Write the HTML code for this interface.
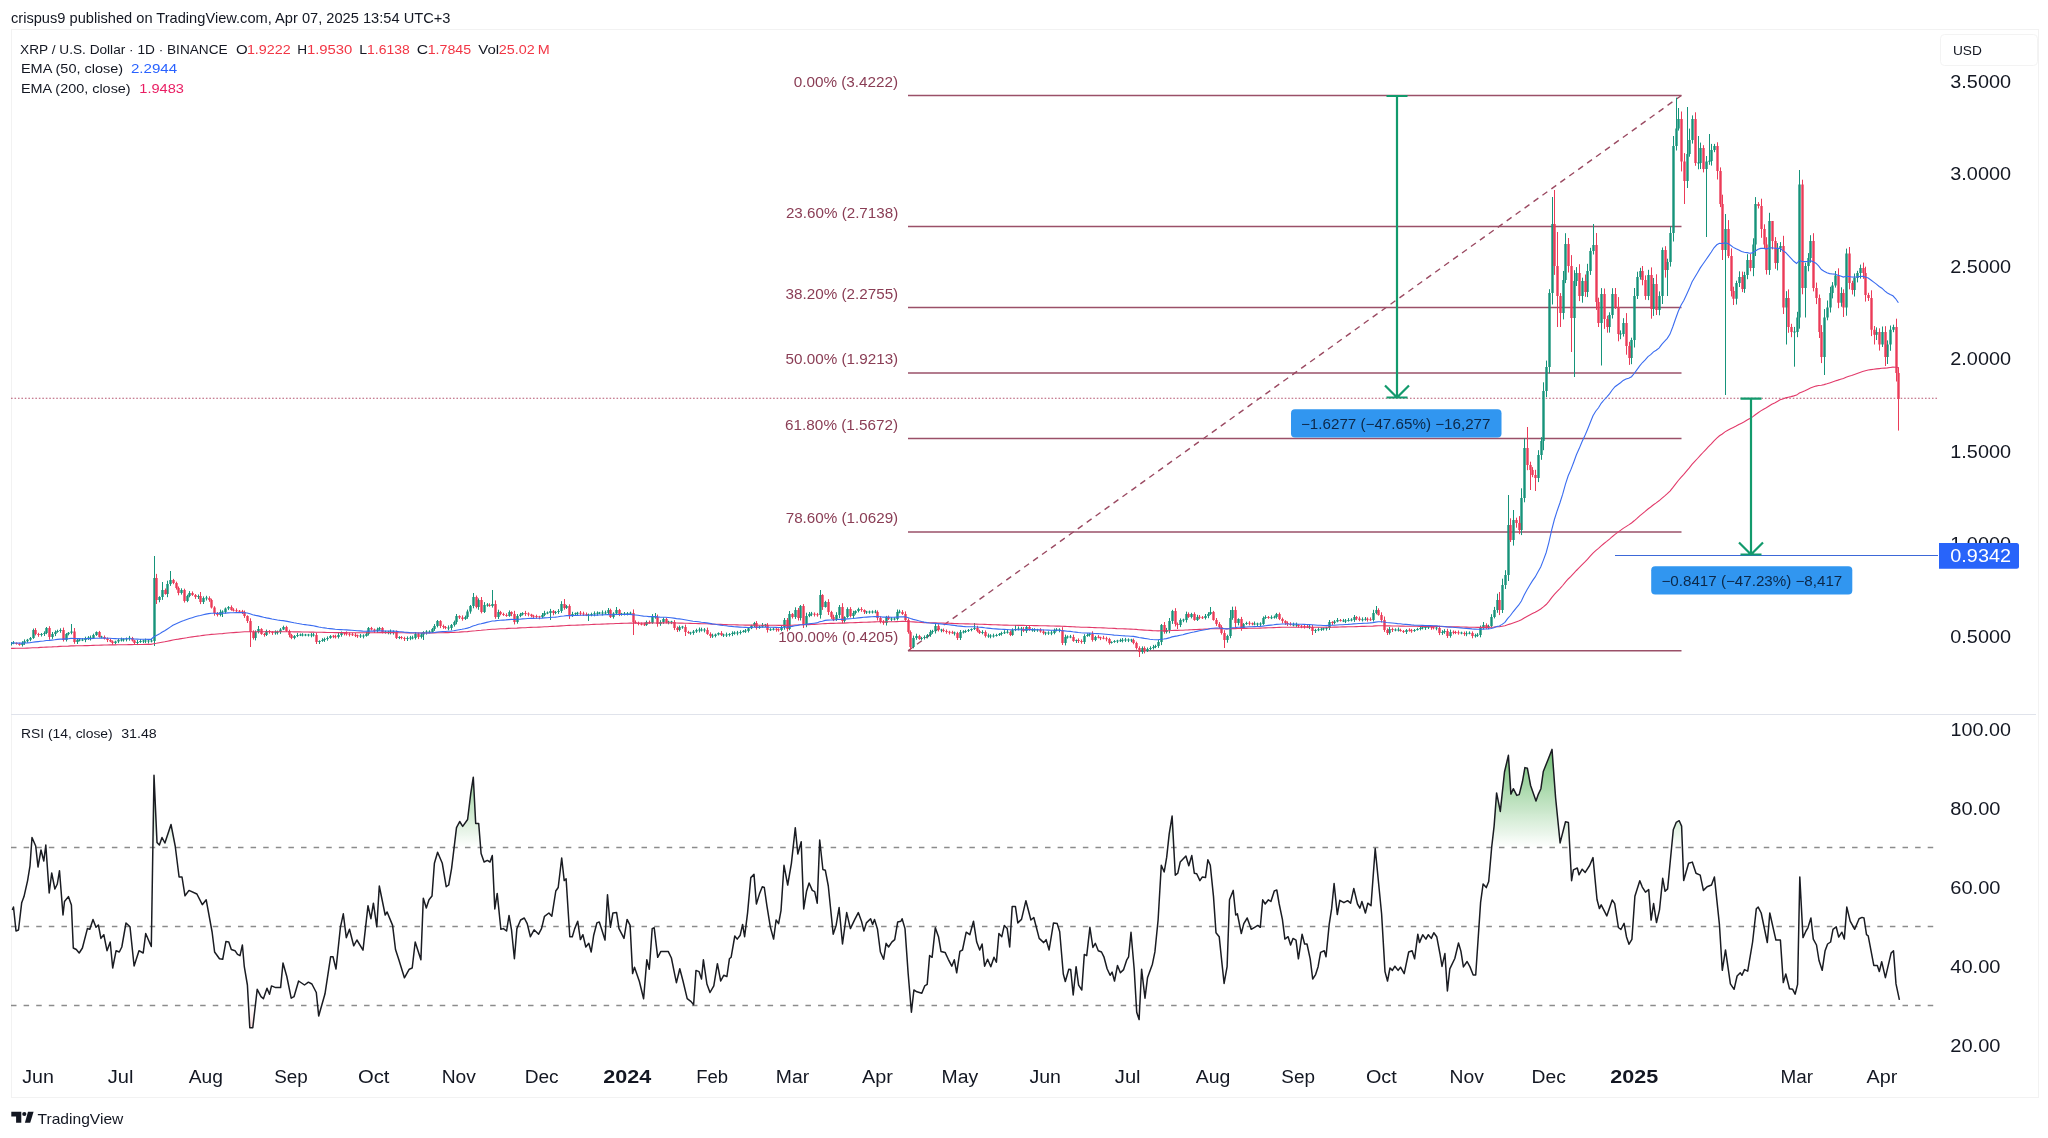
<!DOCTYPE html>
<html><head><meta charset="utf-8"><style>
html,body{margin:0;padding:0;background:#ffffff;}
body{width:2048px;height:1138px;position:relative;overflow:hidden;font-family:"Liberation Sans", sans-serif;color:#131722;}
</style></head><body>
<svg width="2048" height="1138" viewBox="0 0 2048 1138" style="position:absolute;left:0;top:0;will-change:transform"><defs>
<clipPath id="cp"><rect x="11" y="31" width="1927" height="682"/></clipPath>
<clipPath id="cr"><rect x="11" y="715" width="1927" height="340"/></clipPath>
<clipPath id="cob"><rect x="11" y="715" width="1927" height="132.5"/></clipPath>
<clipPath id="cos"><rect x="11" y="1005.5" width="1927" height="60"/></clipPath>
<linearGradient id="gob" gradientUnits="userSpaceOnUse" x1="0" y1="729" x2="0" y2="847.5"><stop offset="0" stop-color="#4caf50" stop-opacity="0.95"/><stop offset="1" stop-color="#4caf50" stop-opacity="0"/></linearGradient>
<linearGradient id="gos" gradientUnits="userSpaceOnUse" x1="0" y1="1005.5" x2="0" y2="1124"><stop offset="0" stop-color="#ff5252" stop-opacity="0"/><stop offset="1" stop-color="#ff5252" stop-opacity="0.95"/></linearGradient>
</defs><rect x="11.5" y="29.5" width="2027" height="1068" fill="none" stroke="#f2f2f2" stroke-width="1"/><line x1="11" y1="714.5" x2="2036" y2="714.5" stroke="#e0e3eb" stroke-width="1.2"/><g clip-path="url(#cp)"><line x1="11" y1="398.3" x2="1938" y2="398.3" stroke="#b55670" stroke-width="1.1" stroke-dasharray="1.6 1.88"/><line x1="908" y1="95.4" x2="1681.5" y2="95.4" stroke="#9a5068" stroke-width="1.5"/><line x1="908" y1="226.5" x2="1681.5" y2="226.5" stroke="#9a5068" stroke-width="1.5"/><line x1="908" y1="307.5" x2="1681.5" y2="307.5" stroke="#9a5068" stroke-width="1.5"/><line x1="908" y1="373" x2="1681.5" y2="373" stroke="#9a5068" stroke-width="1.5"/><line x1="908" y1="438.6" x2="1681.5" y2="438.6" stroke="#9a5068" stroke-width="1.5"/><line x1="908" y1="531.9" x2="1681.5" y2="531.9" stroke="#9a5068" stroke-width="1.5"/><line x1="908" y1="650.7" x2="1681.5" y2="650.7" stroke="#9a5068" stroke-width="1.5"/><line x1="908" y1="650.7" x2="1681.5" y2="95.4" stroke="#9b4a62" stroke-width="1.4" stroke-dasharray="6 5"/><path d="M11.5 642V645.5M13.5 641.1V644.2M22.5 641.2V646.5M24.5 639.4V644.9M27.5 638.9V642.6M30.5 637V641.2M33.5 628.6V638.9M41.5 633V636.5M44.5 631.3V636M46.5 627V634.2M52.5 632V638.9M55.5 630.4V636.1M57.5 629.7V632.7M60.5 628.3V632.8M66.5 633.1V641.5M68.5 632V635.3M71.5 624V634.3M77.5 638.6V644M79.5 638.7V641.4M82.5 638.1V641.1M85.5 636.7V642.2M88.5 636.1V640M90.5 635.5V640.5M93.5 633.7V639M96.5 631.4V635.9M101.5 635.8V638.2M115.5 640.7V644.3M118.5 638.7V643.1M121.5 637.6V641.5M123.5 638.3V641.6M126.5 637.5V641.4M129.5 635.9V640.7M137.5 640V645.1M140.5 639V642.9M143.5 639.7V643.1M145.5 638.6V643.1M148.5 639.7V643.5M151.5 638.8V642.4M154.5 556V646M159.5 596.2V602.3M162.5 582V599.9M167.5 580.7V597.2M170.5 571V585.9M181.5 588.3V594.6M187.5 594.7V602.2M189.5 591.1V597.3M198.5 594.5V599M203.5 596.4V604M206.5 595.8V600.5M220.5 609.6V616.4M222.5 610.3V617M225.5 607.5V613.5M228.5 606.1V610.1M255.5 630.4V640.4M258.5 626V633.4M266.5 629.6V636M275.5 630.4V634.7M277.5 630.6V634.5M280.5 628.1V633.9M283.5 625.7V630.1M294.5 635.1V639.3M297.5 632.9V637.1M300.5 633.5V636.1M302.5 633.2V636.4M305.5 633.9V636.2M308.5 633.9V636.5M311.5 633V637.3M313.5 632.8V636.6M319.5 640.3V644M322.5 638.2V641.8M324.5 637.6V641.9M327.5 636.4V640.7M330.5 635.1V638.8M338.5 633V638.5M341.5 631.5V636.7M360.5 633.9V637.9M363.5 634.3V638.4M366.5 631.7V636.7M368.5 627V635.5M377.5 627.6V633M379.5 626.9V630.7M385.5 630.7V633.6M388.5 630.8V634.3M390.5 629.5V634.4M393.5 630.4V634.6M399.5 636.2V639.1M407.5 636.4V641M410.5 635.9V640.2M412.5 635.7V639.4M415.5 632V639.5M421.5 632.9V638.5M423.5 631.2V640M426.5 630.2V634.6M429.5 630.3V633.3M432.5 627.9V633M434.5 624.1V630.9M437.5 620V627.4M448.5 625.4V630.3M451.5 624V630.1M454.5 620.6V626.6M456.5 614V624.3M465.5 615.6V619.9M467.5 609.6V618.8M470.5 605V613.7M473.5 593V608.3M478.5 598.4V609.8M484.5 602.1V613M487.5 603.1V606.7M492.5 590V607.6M498.5 609.7V619M509.5 610.4V616.8M517.5 614.1V623.7M520.5 612.9V617.2M522.5 612.2V615.5M542.5 613V618.1M544.5 610.8V616.2M547.5 611.5V614.2M550.5 608.9V620M555.5 610.9V614.2M558.5 609.1V613.9M561.5 601.2V612.9M566.5 604.9V608.9M572.5 611.8V616.9M575.5 612.5V615.9M577.5 611.8V615.3M588.5 613.6V621M591.5 612.7V616.3M594.5 611.4V616.3M597.5 611.4V615.7M599.5 611.9V614.2M602.5 610.4V615.5M605.5 610.6V614.5M608.5 608V614.8M613.5 612.2V618.6M616.5 607V615.1M621.5 612.9V615.7M624.5 612V615.4M627.5 612.1V615.4M630.5 611.7V614.9M646.5 620.6V625.9M652.5 614.1V623.9M655.5 613V618.7M660.5 620.2V625.8M663.5 617.4V623.9M668.5 620.8V624.3M671.5 620.8V624.1M679.5 625.5V631.4M682.5 625.8V628.8M690.5 631.8V634.8M693.5 630V634.8M696.5 628.7V632.9M699.5 627.5V632.5M701.5 627.7V631.5M704.5 628.1V632.4M712.5 633.7V637.9M715.5 633.6V637.4M718.5 632.4V635.5M723.5 633.7V637M726.5 632.6V637M729.5 633.1V636.5M732.5 631.3V636.1M734.5 631.3V634.7M737.5 630.9V635.3M740.5 630.3V634.5M743.5 630V632.6M745.5 629V632.9M748.5 627.4V632.5M751.5 624.8V629.1M754.5 621.9V627M759.5 625.6V628.8M762.5 623V627.7M765.5 623.9V626.9M770.5 628.2V630.9M773.5 627.6V630.5M781.5 625.2V631.1M784.5 618V629.7M789.5 611V630.2M795.5 607.3V618.9M800.5 605V620.5M806.5 612.7V627.2M809.5 612V617.2M811.5 611.9V616.2M820.5 590V618.6M825.5 600.8V607.6M836.5 612.2V620.9M839.5 605V618.1M844.5 616.3V622.8M847.5 607.3V617.9M853.5 610.8V618.1M855.5 610.3V614.5M858.5 607.7V612.4M866.5 610.9V613.9M869.5 610.6V613.7M872.5 610.4V613.5M875.5 609.9V613.3M886.5 615.9V625.5M891.5 617.1V621.3M894.5 617.4V620.4M897.5 609.5V620.4M899.5 609.7V613.3M913.5 635.6V648.3M916.5 633.7V639.8M921.5 636.9V640.3M924.5 635.4V639.5M927.5 634V638.4M930.5 629.9V636.8M932.5 629.8V633.8M935.5 623.6V633.5M941.5 628.8V632.3M954.5 631.6V635.5M960.5 630V640M963.5 630.2V633.5M965.5 629.8V632.9M968.5 629V632M971.5 628.4V631.3M974.5 623V630M982.5 630.2V634.3M988.5 633.6V637.8M990.5 634.2V638.3M993.5 633.7V637.6M996.5 633.8V636.6M999.5 633V636M1001.5 631.7V635.6M1004.5 630.2V634M1007.5 629.7V633.6M1012.5 628.3V635.8M1015.5 625V631.1M1018.5 626.5V630.4M1021.5 626.9V636M1026.5 625.1V632.9M1032.5 628.2V631.7M1034.5 628.2V632M1037.5 628.8V631.8M1045.5 631.8V635.2M1048.5 631.3V634.9M1051.5 630.6V635.2M1054.5 628.5V634.3M1056.5 628.1V631.4M1059.5 628.3V632.3M1065.5 634.6V645.4M1067.5 635.4V638.6M1070.5 634.9V638.2M1076.5 639.5V643M1084.5 634.2V644M1087.5 633.3V636.8M1089.5 633V636.6M1095.5 635.8V641.2M1111.5 641.3V643.6M1114.5 640.1V642.8M1117.5 639.8V643.1M1120.5 638.6V642M1122.5 638V642.4M1125.5 637.9V641.9M1128.5 638.4V642.1M1131.5 638.8V642.2M1142.5 646.4V653.8M1147.5 647.5V652M1150.5 646.3V650.1M1153.5 644.9V649.5M1155.5 644.7V648.2M1158.5 639.9V647.9M1161.5 624V645.1M1166.5 627.9V633.5M1169.5 618V633.2M1172.5 609.8V623.9M1180.5 618.4V627.1M1183.5 618.7V622.2M1186.5 611.6V622.5M1191.5 612.8V618.4M1197.5 614.8V621M1205.5 614V619.5M1208.5 612.2V618.2M1210.5 607V614.9M1227.5 634.7V642.7M1230.5 610V638.2M1232.5 606.7V619.8M1238.5 618.3V625.4M1243.5 623.1V629M1246.5 621.7V624.9M1254.5 621.5V625.3M1257.5 622.7V626.4M1260.5 622.3V626.3M1263.5 616.4V624.9M1265.5 615.3V618.9M1271.5 615.4V619.1M1274.5 615.6V618.6M1276.5 612.9V618.6M1293.5 622.6V626.4M1296.5 622.6V626.9M1309.5 624.8V629.1M1315.5 628.8V633M1318.5 627.4V631.2M1321.5 627.7V630.9M1323.5 627.6V630.5M1326.5 626.9V630.6M1329.5 620V630M1334.5 620.1V624.3M1337.5 618V622.3M1343.5 618.9V622.1M1345.5 619V623.1M1348.5 618.1V621.6M1351.5 618.2V621.4M1354.5 615V621.9M1362.5 617.4V621.5M1365.5 617V620.7M1373.5 609.8V621.5M1376.5 606V614.3M1389.5 626.9V634.6M1395.5 628.4V631.3M1398.5 627.5V631.5M1406.5 629.1V634M1414.5 629V631.9M1417.5 627.8V630.6M1420.5 626.2V630.4M1422.5 626.2V629.4M1425.5 626.2V629.9M1428.5 626V629M1436.5 625.9V630.3M1442.5 630.2V634.9M1444.5 629.2V633.8M1450.5 629.6V637.7M1461.5 631.7V634.3M1466.5 631.3V636.2M1469.5 631.4V634.3M1475.5 633.7V637.6M1477.5 633.1V636.9M1480.5 625.6V637.3M1483.5 622V629.4M1488.5 624.7V629.1M1491.5 614.2V627.3M1494.5 606.9V618.4M1497.5 593.7V612.8M1502.5 578.7V613M1505.5 570.2V589M1508.5 495V581M1513.5 510V545.6M1521.5 488.3V535.1M1524.5 438.3V502.3M1538.5 450.2V482.1M1541.5 437.2V459.8M1543.5 382.3V450.2M1546.5 360.6V397.1M1549.5 289.2V373.3M1552.5 197V304.5M1563.5 271V319.4M1565.5 233.2V283.1M1574.5 270.2V377M1576.5 267.1V286M1582.5 277.7V302.7M1587.5 263.8V297.1M1590.5 247.8V274.9M1593.5 224V254.5M1601.5 288.1V365.5M1609.5 312.3V332.6M1612.5 288.2V318.5M1620.5 330.4V339.2M1623.5 318.2V336.6M1631.5 337.7V364.2M1634.5 288V347.5M1637.5 271.7V299M1640.5 267.8V279.6M1648.5 269.8V300.1M1653.5 278V315.9M1659.5 291.4V315.3M1662.5 247.5V304M1667.5 258.7V296M1670.5 226.2V266.6M1673.5 136V241.5M1676.5 97.7V150.5M1678.5 108V130.6M1687.5 107V188M1689.5 128.6V156.7M1692.5 115.4V143.6M1698.5 136V169.3M1700.5 142.6V169M1706.5 156V237M1709.5 134V164.8M1711.5 143.9V165.6M1714.5 143.9V152.2M1725.5 214V395M1736.5 280.7V304.5M1739.5 271.3V287M1744.5 271.8V292.9M1747.5 254.2V279.2M1753.5 238.3V276.2M1755.5 197.1V256M1769.5 212.8V274.9M1777.5 243.1V270.4M1780.5 242.1V252M1786.5 291.2V344.5M1794.5 326.9V366.7M1797.5 311.8V337.2M1799.5 170V328.7M1805.5 262.7V317.5M1808.5 253.1V271.3M1810.5 235.2V262.7M1824.5 309.1V375M1827.5 300.5V320.3M1830.5 286.8V312.5M1832.5 282.1V298.4M1835.5 271V287.6M1841.5 287.3V306.7M1846.5 248.6V315.7M1854.5 273.5V296.5M1857.5 270.8V282.4M1860.5 264.6V278.6M1876.5 327.4V340M1882.5 326.5V347M1887.5 340.4V364M1890.5 325.5V350.8M1893.5 324.7V332.2" stroke="#16937a" stroke-width="1" fill="none"/><path d="M16.5 642.4V644.6M19.5 642.7V645.7M35.5 628.1V635.4M38.5 632.8V636.8M49.5 626.2V639.7M63.5 627.6V641.5M74.5 628V643.8M99.5 630.9V637.7M104.5 635.5V639.5M107.5 637.4V642.1M110.5 638.7V642.2M112.5 640.4V644.8M132.5 636.9V641.5M134.5 639.8V644.2M156.5 573.9V604M165.5 588.5V594.7M173.5 578.9V584.2M176.5 581.7V589.6M178.5 586.5V595.3M184.5 588.7V602.6M192.5 591.4V595.9M195.5 594V598.9M200.5 592V604.1M209.5 596.3V601.8M211.5 598.7V608.5M214.5 606.2V615.7M217.5 612V616.5M231.5 605.4V610.7M233.5 608.2V611.5M236.5 608.4V612M239.5 610V612.7M242.5 609.9V614M244.5 610.5V617.9M247.5 615.3V623M250.5 618.3V647M253.5 630.3V639.6M261.5 628.2V634.8M264.5 633V636.7M269.5 630.1V633.7M272.5 631.1V634.9M286.5 625.8V632M289.5 629.7V637.3M291.5 633.9V639.2M316.5 632.8V644M333.5 634.9V638.2M335.5 634.7V638.5M344.5 632.1V635.4M346.5 631.4V635.6M349.5 632.4V636.5M352.5 632.8V636M355.5 633.1V637.1M357.5 634.6V637.9M371.5 626.9V630.5M374.5 628.6V633M382.5 627.1V633.4M396.5 630.4V639M401.5 636.1V639.3M404.5 636.7V641M418.5 632.6V639.1M440.5 620.1V628.1M443.5 624.6V628.8M445.5 626V629.2M459.5 615.3V619M462.5 615.4V620.7M476.5 595.5V608.4M481.5 597V613.4M489.5 603.3V606.8M495.5 600.4V618.8M500.5 610.9V615.3M503.5 612.7V615.9M506.5 613.3V616.8M511.5 611.3V616.2M514.5 610.8V624.4M525.5 610.9V615.9M528.5 612.4V616.4M531.5 613.8V617.3M533.5 614.8V618.5M536.5 614.7V618.7M539.5 615.8V619.3M553.5 610V615.3M564.5 599V609.7M569.5 604.3V618.9M580.5 611V615.4M583.5 611.7V615.9M586.5 612.5V616.1M610.5 608.7V618M619.5 608.9V616.1M633.5 609.4V635M635.5 620.4V623.7M638.5 621.7V625.3M641.5 622.5V625.4M644.5 622.6V626M649.5 620.5V623.8M657.5 614.6V626.7M666.5 617.9V623.5M674.5 620.1V630.1M677.5 626.4V632M685.5 624.6V636M688.5 630.8V633.8M707.5 627.6V634.9M710.5 632.3V638M721.5 631.1V636.1M756.5 621.1V629.6M767.5 623.1V632.6M776.5 628.1V631.7M778.5 628.3V631.6M787.5 618V631.5M792.5 613.1V618.5M798.5 608V620.5M803.5 604.1V628M814.5 612.4V616.5M817.5 612.9V616.7M822.5 594.2V609.9M828.5 599.2V615M831.5 610.8V618.9M833.5 614.7V621.1M842.5 603.2V623.3M850.5 607.1V617.5M861.5 607.2V611.8M864.5 609.4V614M877.5 610.4V620.5M880.5 616.3V623.4M883.5 620.1V624.8M888.5 615.6V620M902.5 610.1V614.9M905.5 611.4V620.9M908.5 618.3V633.7M910.5 630.4V650M919.5 634.8V639.8M938.5 624.2V631.5M943.5 628.5V632.2M946.5 629.5V633.7M949.5 630.8V634.5M952.5 630.8V633.9M957.5 631.8V640M977.5 625.8V632.3M979.5 629.8V634M985.5 630.4V637.5M1010.5 630.5V636.1M1023.5 627V632.1M1029.5 625.5V630.9M1040.5 628.2V632.7M1043.5 629.5V634.6M1062.5 627.2V645M1073.5 634.7V641.8M1078.5 638.4V643M1081.5 639.4V643.7M1092.5 631.3V641.7M1098.5 635.1V638.4M1100.5 636.7V640.1M1103.5 635.8V639.3M1106.5 636.7V641.3M1109.5 637.8V644.6M1133.5 638.6V644.3M1136.5 641.7V649.6M1139.5 646.3V657M1144.5 646.4V653.4M1164.5 622V633.7M1175.5 608.2V626.5M1177.5 622.5V629M1188.5 612.4V617.9M1194.5 612.3V620.8M1199.5 615V619.2M1202.5 616V619M1213.5 610.9V620.7M1216.5 618V625.9M1219.5 622.1V628.6M1221.5 625.2V634.6M1224.5 630.2V648M1235.5 606.5V627M1241.5 616.9V630.8M1249.5 621.2V625.4M1252.5 622.5V625.3M1268.5 616V618.8M1279.5 612.5V620.1M1282.5 617.6V623.4M1285.5 620.2V624.9M1287.5 621.4V626M1290.5 622.2V625.7M1298.5 624.1V627.6M1301.5 625V628.2M1304.5 625V628.6M1307.5 624.5V628.1M1312.5 625V635M1332.5 621.2V625M1340.5 619V621.6M1356.5 616.1V620.2M1359.5 616.5V621.2M1367.5 617.4V621.6M1370.5 617.4V620.9M1378.5 608.3V615.7M1381.5 612.3V622.5M1384.5 616.5V631.9M1387.5 628.4V635M1392.5 627.6V632M1400.5 628.7V631.7M1403.5 630V633M1409.5 628.3V631.7M1411.5 628.9V632.8M1431.5 626V629.8M1433.5 626.5V629.4M1439.5 625.6V635.1M1447.5 628.8V638M1453.5 630.4V634.3M1455.5 630.8V634.1M1458.5 630.5V634.7M1464.5 631.6V635.9M1472.5 631.4V638.3M1486.5 623.3V629.1M1499.5 592V615.1M1510.5 518.3V542M1516.5 517.7V527.7M1519.5 516.1V534.2M1527.5 427V470.2M1530.5 461.7V490M1532.5 467.1V477.2M1535.5 469.8V491M1554.5 190V274.9M1557.5 232V327M1560.5 293.1V327M1568.5 238V272.5M1571.5 255.1V352M1579.5 264.2V301.1M1585.5 274.5V296.8M1596.5 233V309.9M1598.5 297.7V327M1604.5 288.5V328.9M1607.5 315.7V332.7M1615.5 288V309M1618.5 297.1V341.3M1626.5 313.1V354.7M1629.5 341.8V364.9M1642.5 266V285.3M1645.5 275.4V299.8M1651.5 267.4V318.7M1656.5 274.3V315M1665.5 246.2V277.6M1681.5 111.5V171.4M1684.5 153.1V204M1695.5 112.3V165.8M1703.5 145.2V172.4M1717.5 142.3V179.5M1720.5 167.4V207.1M1722.5 194.7V260M1728.5 220.1V258.1M1731.5 248.4V296.5M1733.5 286.7V305M1742.5 271.6V292.1M1750.5 253.8V271.3M1758.5 202.1V208.5M1761.5 198.7V237.8M1764.5 224.3V249.1M1766.5 237.2V274.5M1772.5 221V249.4M1775.5 237.1V268.8M1783.5 235.8V314M1788.5 289.4V332.8M1791.5 323.8V337.2M1802.5 179.7V294.3M1813.5 233.2V291.4M1816.5 282.6V304.1M1819.5 294.5V338M1821.5 325.1V363.1M1838.5 268.3V308.2M1843.5 289.3V317M1849.5 247V289.3M1852.5 280.8V294.5M1863.5 262.6V278.8M1865.5 266.7V301.6M1868.5 292.8V301M1871.5 290.3V336.1M1874.5 326V344.5M1879.5 328.3V350.6M1885.5 326.2V366M1896.5 318.7V381.5M1898.5 367.2V430.6" stroke="#eb3b58" stroke-width="1" fill="none"/><path d="M10.3 643h2.4V644h-2.4zM12.3 642.5h2.4V643.5h-2.4zM21.3 643h2.4V645h-2.4zM23.3 641.3h2.4V643h-2.4zM26.3 639.7h2.4V641.3h-2.4zM29.3 638h2.4V639.7h-2.4zM32.3 630h2.4V638h-2.4zM40.3 634h2.4V635h-2.4zM43.3 633h2.4V634h-2.4zM45.3 628h2.4V633h-2.4zM51.3 634h2.4V637h-2.4zM54.3 632h2.4V634h-2.4zM56.3 631h2.4V632h-2.4zM59.3 630h2.4V631h-2.4zM65.3 634h2.4V640h-2.4zM67.3 632.8h2.4V634h-2.4zM70.3 631.5h2.4V632.8h-2.4zM76.3 640h2.4V642h-2.4zM78.3 639.5h2.4V640.5h-2.4zM81.3 639.5h2.4V640.5h-2.4zM84.3 638h2.4V640h-2.4zM87.3 637.5h2.4V638.5h-2.4zM89.3 637.5h2.4V638.5h-2.4zM92.3 635h2.4V638h-2.4zM95.3 632h2.4V635h-2.4zM100.3 636.5h2.4V637.5h-2.4zM114.3 641.5h2.4V643h-2.4zM117.3 640h2.4V641.5h-2.4zM120.3 639.5h2.4V640.5h-2.4zM122.3 639.2h2.4V640.2h-2.4zM125.3 638.5h2.4V639.5h-2.4zM128.3 637.8h2.4V638.8h-2.4zM136.3 642h2.4V643h-2.4zM139.3 641h2.4V642h-2.4zM142.3 640.5h2.4V641.5h-2.4zM144.3 640.5h2.4V641.5h-2.4zM147.3 640.5h2.4V641.5h-2.4zM150.3 640.5h2.4V641.5h-2.4zM153.3 578h2.4V641h-2.4zM158.3 597h2.4V600h-2.4zM161.3 590h2.4V597h-2.4zM166.3 584h2.4V594h-2.4zM169.3 580h2.4V584h-2.4zM180.3 590h2.4V593h-2.4zM186.3 596h2.4V601h-2.4zM188.3 593h2.4V596h-2.4zM197.3 596h2.4V597h-2.4zM202.3 598h2.4V602h-2.4zM205.3 597.5h2.4V598.5h-2.4zM219.3 612h2.4V615h-2.4zM221.3 611.5h2.4V612.5h-2.4zM224.3 608.5h2.4V612h-2.4zM227.3 607h2.4V608.5h-2.4zM254.3 632h2.4V638h-2.4zM257.3 629h2.4V632h-2.4zM265.3 631h2.4V635h-2.4zM274.3 632.2h2.4V633.2h-2.4zM276.3 631.8h2.4V632.8h-2.4zM279.3 629.5h2.4V632h-2.4zM282.3 627h2.4V629.5h-2.4zM293.3 636h2.4V638h-2.4zM296.3 635h2.4V636h-2.4zM299.3 634.5h2.4V635.5h-2.4zM301.3 634.5h2.4V635.5h-2.4zM304.3 634.5h2.4V635.5h-2.4zM307.3 634.5h2.4V635.5h-2.4zM310.3 634.5h2.4V635.5h-2.4zM312.3 634.5h2.4V635.5h-2.4zM318.3 641h2.4V642h-2.4zM321.3 640h2.4V641h-2.4zM323.3 639h2.4V640h-2.4zM326.3 638h2.4V639h-2.4zM329.3 636h2.4V638h-2.4zM337.3 635h2.4V637h-2.4zM340.3 633h2.4V635h-2.4zM359.3 635.5h2.4V636.5h-2.4zM362.3 635.5h2.4V636.5h-2.4zM365.3 634h2.4V636h-2.4zM367.3 628h2.4V634h-2.4zM376.3 629.5h2.4V631h-2.4zM378.3 628h2.4V629.5h-2.4zM384.3 631.5h2.4V632.5h-2.4zM387.3 631.5h2.4V632.5h-2.4zM389.3 631.5h2.4V632.5h-2.4zM392.3 631.5h2.4V632.5h-2.4zM398.3 637h2.4V638h-2.4zM406.3 638h2.4V639h-2.4zM409.3 637.5h2.4V638.5h-2.4zM411.3 637.5h2.4V638.5h-2.4zM414.3 634h2.4V638h-2.4zM420.3 634.5h2.4V637h-2.4zM422.3 632h2.4V634.5h-2.4zM425.3 631.5h2.4V632.5h-2.4zM428.3 631.5h2.4V632.5h-2.4zM431.3 629h2.4V632h-2.4zM433.3 626h2.4V629h-2.4zM436.3 621h2.4V626h-2.4zM447.3 627.5h2.4V628.5h-2.4zM450.3 625h2.4V628h-2.4zM453.3 622h2.4V625h-2.4zM455.3 616h2.4V622h-2.4zM464.3 617h2.4V619h-2.4zM466.3 611.5h2.4V617h-2.4zM469.3 606h2.4V611.5h-2.4zM472.3 597h2.4V606h-2.4zM477.3 600h2.4V607h-2.4zM483.3 605h2.4V612h-2.4zM486.3 604.5h2.4V605.5h-2.4zM491.3 604h2.4V606h-2.4zM497.3 612h2.4V617h-2.4zM508.3 612h2.4V616h-2.4zM516.3 616h2.4V622h-2.4zM519.3 614.5h2.4V616h-2.4zM521.3 613h2.4V614.5h-2.4zM541.3 615h2.4V617h-2.4zM543.3 613h2.4V615h-2.4zM546.3 612.5h2.4V613.5h-2.4zM549.3 611h2.4V613h-2.4zM554.3 612h2.4V613h-2.4zM557.3 611h2.4V612h-2.4zM560.3 604h2.4V611h-2.4zM565.3 606h2.4V608h-2.4zM571.3 614h2.4V616h-2.4zM574.3 613.2h2.4V614.2h-2.4zM576.3 612.8h2.4V613.8h-2.4zM587.3 614.5h2.4V615.5h-2.4zM590.3 614h2.4V615h-2.4zM593.3 613.2h2.4V614.2h-2.4zM596.3 612.8h2.4V613.8h-2.4zM598.3 612.5h2.4V613.5h-2.4zM601.3 612.5h2.4V613.5h-2.4zM604.3 612.5h2.4V613.5h-2.4zM607.3 610h2.4V613h-2.4zM612.3 613.5h2.4V617h-2.4zM615.3 610h2.4V613.5h-2.4zM620.3 613.5h2.4V614.5h-2.4zM623.3 613.5h2.4V614.5h-2.4zM626.3 613.2h2.4V614.2h-2.4zM629.3 612.8h2.4V613.8h-2.4zM645.3 622h2.4V625h-2.4zM651.3 617h2.4V623h-2.4zM654.3 616.5h2.4V617.5h-2.4zM659.3 622h2.4V624h-2.4zM662.3 619h2.4V622h-2.4zM667.3 621.5h2.4V622.5h-2.4zM670.3 621.5h2.4V622.5h-2.4zM678.3 627h2.4V630h-2.4zM681.3 626.5h2.4V627.5h-2.4zM689.3 632.5h2.4V633.5h-2.4zM692.3 631.5h2.4V633h-2.4zM695.3 630h2.4V631.5h-2.4zM698.3 629.5h2.4V630.5h-2.4zM700.3 629.5h2.4V630.5h-2.4zM703.3 629.5h2.4V630.5h-2.4zM711.3 635.5h2.4V636.5h-2.4zM714.3 634.5h2.4V636h-2.4zM717.3 633h2.4V634.5h-2.4zM722.3 634.5h2.4V635.5h-2.4zM725.3 634.5h2.4V635.5h-2.4zM728.3 634h2.4V635h-2.4zM731.3 633h2.4V634h-2.4zM733.3 632.5h2.4V633.5h-2.4zM736.3 632.5h2.4V633.5h-2.4zM739.3 632h2.4V633h-2.4zM742.3 631h2.4V632h-2.4zM744.3 630.5h2.4V631.5h-2.4zM747.3 628.2h2.4V631h-2.4zM750.3 625.5h2.4V628.2h-2.4zM753.3 623h2.4V625.5h-2.4zM758.3 626.5h2.4V628h-2.4zM761.3 625h2.4V626.5h-2.4zM764.3 624.5h2.4V625.5h-2.4zM769.3 629.2h2.4V630.2h-2.4zM772.3 628.8h2.4V629.8h-2.4zM780.3 627h2.4V630h-2.4zM783.3 620h2.4V627h-2.4zM788.3 614h2.4V629h-2.4zM794.3 610h2.4V617h-2.4zM799.3 606h2.4V618h-2.4zM805.3 616h2.4V625h-2.4zM808.3 614h2.4V616h-2.4zM810.3 613.5h2.4V614.5h-2.4zM819.3 595h2.4V615h-2.4zM824.3 602h2.4V607h-2.4zM835.3 615h2.4V620h-2.4zM838.3 607h2.4V615h-2.4zM843.3 617h2.4V621h-2.4zM846.3 609h2.4V617h-2.4zM852.3 613h2.4V616h-2.4zM854.3 611h2.4V613h-2.4zM857.3 609h2.4V611h-2.4zM865.3 611.5h2.4V612.5h-2.4zM868.3 611.5h2.4V612.5h-2.4zM871.3 611.5h2.4V612.5h-2.4zM874.3 611.5h2.4V612.5h-2.4zM885.3 617h2.4V623h-2.4zM890.3 618.5h2.4V619.5h-2.4zM893.3 618.5h2.4V619.5h-2.4zM896.3 612h2.4V619h-2.4zM898.3 611.5h2.4V612.5h-2.4zM912.3 638h2.4V647h-2.4zM915.3 636h2.4V638h-2.4zM920.3 638h2.4V639h-2.4zM923.3 637h2.4V638h-2.4zM926.3 635h2.4V637h-2.4zM929.3 632h2.4V635h-2.4zM931.3 631h2.4V632h-2.4zM934.3 626h2.4V631h-2.4zM940.3 629.5h2.4V630.5h-2.4zM953.3 632.5h2.4V633.5h-2.4zM959.3 632h2.4V638h-2.4zM962.3 631.5h2.4V632.5h-2.4zM964.3 631h2.4V632h-2.4zM967.3 630h2.4V631h-2.4zM970.3 629h2.4V630h-2.4zM973.3 628h2.4V629h-2.4zM981.3 632h2.4V633h-2.4zM987.3 635.5h2.4V636.5h-2.4zM989.3 635.5h2.4V636.5h-2.4zM992.3 635.5h2.4V636.5h-2.4zM995.3 635h2.4V636h-2.4zM998.3 634h2.4V635h-2.4zM1000.3 633h2.4V634h-2.4zM1003.3 632.2h2.4V633.2h-2.4zM1006.3 631.8h2.4V632.8h-2.4zM1011.3 630h2.4V635h-2.4zM1014.3 629h2.4V630h-2.4zM1017.3 628.5h2.4V629.5h-2.4zM1020.3 628.5h2.4V629.5h-2.4zM1025.3 627h2.4V631h-2.4zM1031.3 629.5h2.4V630.5h-2.4zM1033.3 629.5h2.4V630.5h-2.4zM1036.3 629.5h2.4V630.5h-2.4zM1044.3 632.5h2.4V633.5h-2.4zM1047.3 632.5h2.4V633.5h-2.4zM1050.3 632.5h2.4V633.5h-2.4zM1053.3 630h2.4V633h-2.4zM1055.3 629.5h2.4V630.5h-2.4zM1058.3 629.5h2.4V630.5h-2.4zM1064.3 637h2.4V643h-2.4zM1066.3 636.5h2.4V637.5h-2.4zM1069.3 636.5h2.4V637.5h-2.4zM1075.3 640h2.4V641h-2.4zM1083.3 636h2.4V642h-2.4zM1086.3 635h2.4V636h-2.4zM1088.3 634h2.4V635h-2.4zM1094.3 637h2.4V640h-2.4zM1110.3 642h2.4V643h-2.4zM1113.3 641h2.4V642h-2.4zM1116.3 640.5h2.4V641.5h-2.4zM1119.3 640.2h2.4V641.2h-2.4zM1121.3 639.8h2.4V640.8h-2.4zM1124.3 639.5h2.4V640.5h-2.4zM1127.3 639.5h2.4V640.5h-2.4zM1130.3 639.5h2.4V640.5h-2.4zM1141.3 648h2.4V652h-2.4zM1146.3 649h2.4V651h-2.4zM1149.3 648h2.4V649h-2.4zM1152.3 647h2.4V648h-2.4zM1154.3 646h2.4V647h-2.4zM1157.3 642h2.4V646h-2.4zM1160.3 625h2.4V642h-2.4zM1165.3 630h2.4V632h-2.4zM1168.3 621h2.4V630h-2.4zM1171.3 611h2.4V621h-2.4zM1179.3 620h2.4V625h-2.4zM1182.3 619.5h2.4V620.5h-2.4zM1185.3 614h2.4V620h-2.4zM1190.3 614h2.4V617h-2.4zM1196.3 617h2.4V620h-2.4zM1204.3 616h2.4V618h-2.4zM1207.3 614h2.4V616h-2.4zM1209.3 612h2.4V614h-2.4zM1226.3 636h2.4V640h-2.4zM1229.3 618h2.4V636h-2.4zM1231.3 610h2.4V618h-2.4zM1237.3 619h2.4V623h-2.4zM1242.3 624h2.4V628h-2.4zM1245.3 623h2.4V624h-2.4zM1253.3 623.5h2.4V624.5h-2.4zM1256.3 623.5h2.4V624.5h-2.4zM1259.3 623.5h2.4V624.5h-2.4zM1262.3 618h2.4V624h-2.4zM1264.3 617h2.4V618h-2.4zM1270.3 617.2h2.4V618.2h-2.4zM1273.3 616.8h2.4V617.8h-2.4zM1275.3 614h2.4V617h-2.4zM1292.3 624.5h2.4V625.5h-2.4zM1295.3 624.5h2.4V625.5h-2.4zM1308.3 626.5h2.4V627.5h-2.4zM1314.3 630h2.4V631h-2.4zM1317.3 629.2h2.4V630.2h-2.4zM1320.3 628.8h2.4V629.8h-2.4zM1322.3 628.2h2.4V629.2h-2.4zM1325.3 627.8h2.4V628.8h-2.4zM1328.3 622h2.4V628h-2.4zM1333.3 621.5h2.4V623h-2.4zM1336.3 620h2.4V621.5h-2.4zM1342.3 620.5h2.4V621.5h-2.4zM1344.3 620.5h2.4V621.5h-2.4zM1347.3 620h2.4V621h-2.4zM1350.3 619.5h2.4V620.5h-2.4zM1353.3 617h2.4V620h-2.4zM1361.3 619.2h2.4V620.2h-2.4zM1364.3 618.8h2.4V619.8h-2.4zM1372.3 613h2.4V620h-2.4zM1375.3 610h2.4V613h-2.4zM1388.3 629h2.4V633h-2.4zM1394.3 629.5h2.4V630.5h-2.4zM1397.3 629.5h2.4V630.5h-2.4zM1405.3 630h2.4V632h-2.4zM1413.3 630h2.4V631h-2.4zM1416.3 629h2.4V630h-2.4zM1419.3 628h2.4V629h-2.4zM1421.3 627.3h2.4V628.3h-2.4zM1424.3 627h2.4V628h-2.4zM1427.3 626.7h2.4V627.7h-2.4zM1435.3 627.5h2.4V628.5h-2.4zM1441.3 632h2.4V633h-2.4zM1443.3 631h2.4V632h-2.4zM1449.3 632h2.4V636h-2.4zM1460.3 632.5h2.4V633.5h-2.4zM1465.3 633.2h2.4V634.2h-2.4zM1468.3 632.8h2.4V633.8h-2.4zM1474.3 635.2h2.4V636.2h-2.4zM1476.3 634.8h2.4V635.8h-2.4zM1479.3 628h2.4V635h-2.4zM1482.3 625h2.4V628h-2.4zM1487.3 626h2.4V627h-2.4zM1490.3 617h2.4V626h-2.4zM1493.3 610h2.4V617h-2.4zM1496.3 600h2.4V610h-2.4zM1501.3 585h2.4V610h-2.4zM1504.3 575h2.4V585h-2.4zM1507.3 525h2.4V575h-2.4zM1512.3 520h2.4V540h-2.4zM1520.3 498h2.4V530h-2.4zM1523.3 448h2.4V498h-2.4zM1537.3 455h2.4V478h-2.4zM1540.3 441h2.4V455h-2.4zM1542.3 391h2.4V441h-2.4zM1545.3 367h2.4V391h-2.4zM1548.3 293h2.4V367h-2.4zM1551.3 224h2.4V293h-2.4zM1562.3 280h2.4V313h-2.4zM1564.3 244h2.4V280h-2.4zM1573.3 281h2.4V318h-2.4zM1575.3 273h2.4V281h-2.4zM1581.3 281h2.4V296h-2.4zM1586.3 271h2.4V292h-2.4zM1589.3 251h2.4V271h-2.4zM1592.3 245h2.4V251h-2.4zM1600.3 294h2.4V323h-2.4zM1608.3 315h2.4V327h-2.4zM1611.3 294h2.4V315h-2.4zM1619.3 333.5h2.4V334.5h-2.4zM1622.3 323h2.4V334h-2.4zM1630.3 340h2.4V358h-2.4zM1633.3 296h2.4V340h-2.4zM1636.3 277h2.4V296h-2.4zM1639.3 271h2.4V277h-2.4zM1647.3 275h2.4V296h-2.4zM1652.3 284h2.4V309h-2.4zM1658.3 296h2.4V310h-2.4zM1661.3 250h2.4V296h-2.4zM1666.3 262h2.4V270h-2.4zM1669.3 233h2.4V262h-2.4zM1672.3 146h2.4V233h-2.4zM1675.3 128.6h2.4V146h-2.4zM1677.3 119h2.4V128.6h-2.4zM1686.3 154h2.4V181h-2.4zM1688.3 140h2.4V154h-2.4zM1691.3 119h2.4V140h-2.4zM1697.3 162.5h2.4V163.5h-2.4zM1699.3 148h2.4V163h-2.4zM1705.3 161.5h2.4V169h-2.4zM1708.3 160.8h2.4V161.8h-2.4zM1710.3 150h2.4V161h-2.4zM1713.3 146h2.4V150h-2.4zM1724.3 229h2.4V250h-2.4zM1735.3 283h2.4V298.7h-2.4zM1738.3 277h2.4V283h-2.4zM1743.3 275h2.4V289h-2.4zM1746.3 260h2.4V275h-2.4zM1752.3 244.6h2.4V268h-2.4zM1754.3 204h2.4V244.6h-2.4zM1768.3 221h2.4V270h-2.4zM1776.3 248.6h2.4V263h-2.4zM1779.3 246h2.4V248.6h-2.4zM1785.3 298h2.4V307.6h-2.4zM1793.3 331.5h2.4V332.5h-2.4zM1796.3 317.5h2.4V332h-2.4zM1798.3 184.6h2.4V317.5h-2.4zM1804.3 266h2.4V288h-2.4zM1807.3 258h2.4V266h-2.4zM1809.3 241h2.4V258h-2.4zM1823.3 317.5h2.4V357h-2.4zM1826.3 307.6h2.4V317.5h-2.4zM1829.3 293h2.4V307.6h-2.4zM1831.3 285.5h2.4V293h-2.4zM1834.3 275.6h2.4V285.5h-2.4zM1840.3 293h2.4V302.7h-2.4zM1845.3 253.5h2.4V307.6h-2.4zM1853.3 278h2.4V290h-2.4zM1856.3 273h2.4V278h-2.4zM1859.3 268h2.4V273h-2.4zM1875.3 332h2.4V334.7h-2.4zM1881.3 332h2.4V344.5h-2.4zM1886.3 344.5h2.4V357h-2.4zM1889.3 329.8h2.4V344.5h-2.4zM1892.3 327h2.4V329.8h-2.4z" fill="#16937a"/><path d="M15.3 643h2.4V644h-2.4zM18.3 644h2.4V645h-2.4zM34.3 630h2.4V634h-2.4zM37.3 634h2.4V635h-2.4zM48.3 628h2.4V637h-2.4zM62.3 630h2.4V640h-2.4zM73.3 631.5h2.4V642h-2.4zM98.3 632h2.4V637h-2.4zM103.3 637h2.4V638.5h-2.4zM106.3 638.5h2.4V640h-2.4zM109.3 640h2.4V641.5h-2.4zM111.3 641.5h2.4V643h-2.4zM131.3 638h2.4V640.5h-2.4zM133.3 640.5h2.4V643h-2.4zM155.3 578h2.4V600h-2.4zM164.3 590h2.4V594h-2.4zM172.3 580h2.4V583h-2.4zM175.3 583h2.4V588h-2.4zM177.3 588h2.4V593h-2.4zM183.3 590h2.4V601h-2.4zM191.3 593h2.4V595h-2.4zM194.3 595h2.4V597h-2.4zM199.3 596h2.4V602h-2.4zM208.3 598h2.4V600h-2.4zM210.3 600h2.4V607.5h-2.4zM213.3 607.5h2.4V613h-2.4zM216.3 613h2.4V615h-2.4zM230.3 607h2.4V610h-2.4zM232.3 609.8h2.4V610.8h-2.4zM235.3 610.2h2.4V611.2h-2.4zM238.3 610.8h2.4V611.8h-2.4zM241.3 611.2h2.4V612.2h-2.4zM243.3 612h2.4V616h-2.4zM246.3 616h2.4V621h-2.4zM249.3 621h2.4V632h-2.4zM252.3 632h2.4V638h-2.4zM260.3 629h2.4V634h-2.4zM263.3 634h2.4V635h-2.4zM268.3 631h2.4V632h-2.4zM271.3 632h2.4V633h-2.4zM285.3 627h2.4V631h-2.4zM288.3 631h2.4V635h-2.4zM290.3 635h2.4V638h-2.4zM315.3 635h2.4V642h-2.4zM332.3 635.8h2.4V636.8h-2.4zM334.3 636.2h2.4V637.2h-2.4zM343.3 632.8h2.4V633.8h-2.4zM345.3 633.2h2.4V634.2h-2.4zM348.3 633.8h2.4V634.8h-2.4zM351.3 634.2h2.4V635.2h-2.4zM354.3 634.8h2.4V635.8h-2.4zM356.3 635.2h2.4V636.2h-2.4zM370.3 628h2.4V629.5h-2.4zM373.3 629.5h2.4V631h-2.4zM381.3 628h2.4V632h-2.4zM395.3 632h2.4V638h-2.4zM400.3 637h2.4V638h-2.4zM403.3 638h2.4V639h-2.4zM417.3 634h2.4V637h-2.4zM439.3 621h2.4V626h-2.4zM442.3 626h2.4V627h-2.4zM444.3 627h2.4V628h-2.4zM458.3 616h2.4V617.5h-2.4zM461.3 617.5h2.4V619h-2.4zM475.3 597h2.4V607h-2.4zM480.3 600h2.4V612h-2.4zM488.3 605h2.4V606h-2.4zM494.3 604h2.4V617h-2.4zM499.3 612h2.4V614h-2.4zM502.3 614h2.4V615h-2.4zM505.3 615h2.4V616h-2.4zM510.3 612h2.4V614h-2.4zM513.3 614h2.4V622h-2.4zM524.3 612.9h2.4V613.9h-2.4zM527.3 613.6h2.4V614.6h-2.4zM530.3 614.5h2.4V616h-2.4zM532.3 615.7h2.4V616.7h-2.4zM535.3 616h2.4V617h-2.4zM538.3 616.3h2.4V617.3h-2.4zM552.3 611h2.4V613h-2.4zM563.3 604h2.4V608h-2.4zM568.3 606h2.4V616h-2.4zM579.3 612.8h2.4V613.8h-2.4zM582.3 613.5h2.4V614.5h-2.4zM585.3 614.2h2.4V615.2h-2.4zM609.3 610h2.4V617h-2.4zM618.3 610h2.4V614h-2.4zM632.3 613h2.4V622h-2.4zM634.3 622h2.4V623h-2.4zM637.3 623h2.4V624h-2.4zM640.3 623.8h2.4V624.8h-2.4zM643.3 624.2h2.4V625.2h-2.4zM648.3 622h2.4V623h-2.4zM656.3 617h2.4V624h-2.4zM665.3 619h2.4V622h-2.4zM673.3 622h2.4V628h-2.4zM676.3 628h2.4V630h-2.4zM684.3 627h2.4V632h-2.4zM687.3 632h2.4V633h-2.4zM706.3 630h2.4V634h-2.4zM709.3 634h2.4V636h-2.4zM720.3 633h2.4V635h-2.4zM755.3 623h2.4V628h-2.4zM766.3 625h2.4V630h-2.4zM775.3 628.8h2.4V629.8h-2.4zM777.3 629.2h2.4V630.2h-2.4zM786.3 620h2.4V629h-2.4zM791.3 614h2.4V617h-2.4zM797.3 610h2.4V618h-2.4zM802.3 606h2.4V625h-2.4zM813.3 613.8h2.4V614.8h-2.4zM816.3 614.2h2.4V615.2h-2.4zM821.3 595h2.4V607h-2.4zM827.3 602h2.4V612h-2.4zM830.3 612h2.4V617h-2.4zM832.3 617h2.4V620h-2.4zM841.3 607h2.4V621h-2.4zM849.3 609h2.4V616h-2.4zM860.3 609h2.4V610h-2.4zM863.3 610h2.4V612h-2.4zM876.3 612h2.4V618h-2.4zM879.3 618h2.4V622h-2.4zM882.3 622h2.4V623h-2.4zM887.3 617h2.4V619h-2.4zM901.3 612h2.4V614h-2.4zM904.3 614h2.4V620h-2.4zM907.3 620h2.4V632h-2.4zM909.3 632h2.4V647h-2.4zM918.3 636h2.4V639h-2.4zM937.3 626h2.4V630h-2.4zM942.3 630h2.4V631h-2.4zM945.3 631h2.4V632h-2.4zM948.3 631.8h2.4V632.8h-2.4zM951.3 632.2h2.4V633.2h-2.4zM956.3 633h2.4V638h-2.4zM976.3 628h2.4V631h-2.4zM978.3 631h2.4V633h-2.4zM984.3 632h2.4V636h-2.4zM1009.3 632h2.4V635h-2.4zM1022.3 629h2.4V631h-2.4zM1028.3 627h2.4V630h-2.4zM1039.3 630h2.4V631.5h-2.4zM1042.3 631.5h2.4V633h-2.4zM1061.3 630h2.4V643h-2.4zM1072.3 637h2.4V641h-2.4zM1077.3 640h2.4V641h-2.4zM1080.3 641h2.4V642h-2.4zM1091.3 634h2.4V640h-2.4zM1097.3 636.8h2.4V637.8h-2.4zM1099.3 637.2h2.4V638.2h-2.4zM1102.3 637.8h2.4V638.8h-2.4zM1105.3 638.2h2.4V639.2h-2.4zM1108.3 639h2.4V643h-2.4zM1132.3 640h2.4V643h-2.4zM1135.3 643h2.4V648h-2.4zM1138.3 648h2.4V652h-2.4zM1143.3 648h2.4V651h-2.4zM1163.3 625h2.4V632h-2.4zM1174.3 611h2.4V624h-2.4zM1176.3 624h2.4V625h-2.4zM1187.3 614h2.4V617h-2.4zM1193.3 614h2.4V620h-2.4zM1198.3 616.8h2.4V617.8h-2.4zM1201.3 617.2h2.4V618.2h-2.4zM1212.3 612h2.4V620h-2.4zM1215.3 620h2.4V624h-2.4zM1218.3 624h2.4V627h-2.4zM1220.3 627h2.4V633h-2.4zM1223.3 633h2.4V640h-2.4zM1234.3 610h2.4V623h-2.4zM1240.3 619h2.4V628h-2.4zM1248.3 622.8h2.4V623.8h-2.4zM1251.3 623.2h2.4V624.2h-2.4zM1267.3 617h2.4V618h-2.4zM1278.3 614h2.4V619h-2.4zM1281.3 619h2.4V621h-2.4zM1284.3 621h2.4V623h-2.4zM1286.3 623h2.4V624h-2.4zM1289.3 624h2.4V625h-2.4zM1297.3 625h2.4V626h-2.4zM1300.3 625.7h2.4V626.7h-2.4zM1303.3 626h2.4V627h-2.4zM1306.3 626.3h2.4V627.3h-2.4zM1311.3 627h2.4V631h-2.4zM1331.3 622h2.4V623h-2.4zM1339.3 620h2.4V621h-2.4zM1355.3 617h2.4V618.5h-2.4zM1358.3 618.5h2.4V620h-2.4zM1366.3 618.8h2.4V619.8h-2.4zM1369.3 619.2h2.4V620.2h-2.4zM1377.3 610h2.4V615h-2.4zM1380.3 615h2.4V620h-2.4zM1383.3 620h2.4V630h-2.4zM1386.3 630h2.4V633h-2.4zM1391.3 629h2.4V630h-2.4zM1399.3 630h2.4V631h-2.4zM1402.3 631h2.4V632h-2.4zM1408.3 629.8h2.4V630.8h-2.4zM1410.3 630.2h2.4V631.2h-2.4zM1430.3 626.8h2.4V627.8h-2.4zM1432.3 627.2h2.4V628.2h-2.4zM1438.3 628h2.4V633h-2.4zM1446.3 631h2.4V636h-2.4zM1452.3 631.7h2.4V632.7h-2.4zM1454.3 632h2.4V633h-2.4zM1457.3 632.3h2.4V633.3h-2.4zM1463.3 633h2.4V634h-2.4zM1471.3 633h2.4V636h-2.4zM1485.3 625h2.4V627h-2.4zM1498.3 600h2.4V610h-2.4zM1509.3 525h2.4V540h-2.4zM1515.3 520h2.4V523h-2.4zM1518.3 523h2.4V530h-2.4zM1526.3 448h2.4V465h-2.4zM1529.3 465h2.4V470h-2.4zM1531.3 470h2.4V475h-2.4zM1534.3 475h2.4V478h-2.4zM1553.3 224h2.4V266h-2.4zM1556.3 266h2.4V296h-2.4zM1559.3 296h2.4V313h-2.4zM1567.3 244h2.4V266h-2.4zM1570.3 266h2.4V318h-2.4zM1578.3 273h2.4V296h-2.4zM1584.3 281h2.4V292h-2.4zM1595.3 245h2.4V302h-2.4zM1597.3 302h2.4V323h-2.4zM1603.3 294h2.4V319h-2.4zM1606.3 319h2.4V327h-2.4zM1614.3 294h2.4V307h-2.4zM1617.3 307h2.4V334h-2.4zM1625.3 323h2.4V346h-2.4zM1628.3 346h2.4V358h-2.4zM1641.3 271h2.4V280h-2.4zM1644.3 280h2.4V296h-2.4zM1650.3 275h2.4V309h-2.4zM1655.3 284h2.4V310h-2.4zM1664.3 250h2.4V270h-2.4zM1680.3 119h2.4V161.5h-2.4zM1683.3 161.5h2.4V181h-2.4zM1694.3 119h2.4V163h-2.4zM1702.3 148h2.4V169h-2.4zM1716.3 146h2.4V171h-2.4zM1719.3 171h2.4V204h-2.4zM1721.3 204h2.4V250h-2.4zM1727.3 229h2.4V256h-2.4zM1730.3 256h2.4V291h-2.4zM1732.3 291h2.4V298.7h-2.4zM1741.3 277h2.4V289h-2.4zM1749.3 260h2.4V268h-2.4zM1757.3 204h2.4V206h-2.4zM1760.3 206h2.4V229h-2.4zM1763.3 229h2.4V244.6h-2.4zM1765.3 244.6h2.4V270h-2.4zM1771.3 221h2.4V241h-2.4zM1774.3 241h2.4V263h-2.4zM1782.3 246h2.4V307.6h-2.4zM1787.3 298h2.4V327h-2.4zM1790.3 327h2.4V332h-2.4zM1801.3 184.6h2.4V288h-2.4zM1812.3 241h2.4V288h-2.4zM1815.3 288h2.4V298h-2.4zM1818.3 298h2.4V332h-2.4zM1820.3 332h2.4V357h-2.4zM1837.3 275.6h2.4V302.7h-2.4zM1842.3 293h2.4V307.6h-2.4zM1848.3 253.5h2.4V283h-2.4zM1851.3 283h2.4V290h-2.4zM1862.3 268h2.4V273h-2.4zM1864.3 273h2.4V295h-2.4zM1867.3 295h2.4V298h-2.4zM1870.3 298h2.4V329.8h-2.4zM1873.3 329.8h2.4V334.7h-2.4zM1878.3 332h2.4V344.5h-2.4zM1884.3 332h2.4V357h-2.4zM1895.3 327h2.4V373h-2.4zM1897.3 373h2.4V399h-2.4z" fill="#eb3b58"/><polyline points="10.6,648.4 13.3,648.4 16.1,648.3 18.8,648.3 21.6,648.3 24.3,648.2 27.1,648.1 29.8,648 32.6,647.8 35.3,647.7 38.1,647.6 40.8,647.4 43.6,647.3 46.3,647.1 49.1,647 51.8,646.9 54.6,646.7 57.3,646.6 60.1,646.4 62.8,646.3 65.6,646.2 68.3,646.1 71.1,645.9 73.8,645.9 76.6,645.8 79.4,645.8 82.1,645.7 84.9,645.6 87.6,645.6 90.4,645.5 93.1,645.4 95.9,645.3 98.6,645.2 101.4,645.1 104.1,645 106.9,645 109.6,644.9 112.4,644.9 115.1,644.9 117.9,644.8 120.6,644.8 123.4,644.7 126.1,644.7 128.9,644.6 131.6,644.6 134.4,644.5 137.1,644.5 139.9,644.5 142.6,644.5 145.4,644.4 148.2,644.4 150.9,644.4 153.7,643.7 156.4,643.3 159.2,642.8 161.9,642.3 164.7,641.8 167.4,641.2 170.2,640.6 172.9,640 175.7,639.5 178.4,639.1 181.2,638.6 183.9,638.2 186.7,637.8 189.4,637.3 192.2,636.9 194.9,636.5 197.7,636.1 200.4,635.8 203.2,635.4 205.9,635 208.7,634.7 211.4,634.4 214.2,634.2 217,634 219.7,633.8 222.5,633.6 225.2,633.3 228,633 230.7,632.8 233.5,632.6 236.2,632.4 239,632.2 241.7,632 244.5,631.8 247.2,631.7 250,631.7 252.7,631.8 255.5,631.8 258.2,631.7 261,631.8 263.7,631.8 266.5,631.8 269.2,631.8 272,631.8 274.7,631.8 277.5,631.8 280.2,631.8 283,631.7 285.8,631.7 288.5,631.8 291.3,631.8 294,631.9 296.8,631.9 299.5,631.9 302.3,632 305,632 307.8,632 310.5,632.1 313.3,632.1 316,632.2 318.8,632.3 321.5,632.3 324.3,632.4 327,632.5 329.8,632.5 332.5,632.5 335.3,632.6 338,632.6 340.8,632.6 343.5,632.6 346.3,632.6 349,632.7 351.8,632.7 354.6,632.7 357.3,632.7 360.1,632.8 362.8,632.8 365.6,632.8 368.3,632.8 371.1,632.7 373.8,632.7 376.6,632.7 379.3,632.6 382.1,632.6 384.8,632.6 387.6,632.6 390.3,632.6 393.1,632.6 395.8,632.7 398.6,632.7 401.3,632.8 404.1,632.8 406.8,632.9 409.6,632.9 412.3,633 415.1,633 417.8,633 420.6,633 423.4,633 426.1,633 428.9,633 431.6,633 434.4,632.9 437.1,632.8 439.9,632.7 442.6,632.7 445.4,632.6 448.1,632.6 450.9,632.5 453.6,632.4 456.4,632.2 459.1,632.1 461.9,631.9 464.6,631.8 467.4,631.6 470.1,631.3 472.9,631 475.6,630.8 478.4,630.5 481.1,630.3 483.9,630 486.6,629.8 489.4,629.5 492.2,629.3 494.9,629.2 497.7,629 500.4,628.8 503.2,628.7 505.9,628.6 508.7,628.4 511.4,628.3 514.2,628.2 516.9,628.1 519.7,627.9 522.4,627.8 525.2,627.7 527.9,627.5 530.7,627.4 533.4,627.3 536.2,627.2 538.9,627.1 541.7,627 544.4,626.8 547.2,626.7 549.9,626.5 552.7,626.4 555.4,626.3 558.2,626.1 561,625.9 563.7,625.7 566.5,625.5 569.2,625.4 572,625.3 574.7,625.2 577.5,625.1 580.2,625 583,624.9 585.7,624.8 588.5,624.7 591.2,624.5 594,624.4 596.7,624.3 599.5,624.2 602.2,624.1 605,624 607.7,623.9 610.5,623.8 613.2,623.7 616,623.5 618.7,623.5 621.5,623.4 624.2,623.3 627,623.2 629.8,623.1 632.5,623.1 635.3,623.1 638,623.1 640.8,623.1 643.5,623.1 646.3,623.1 649,623.1 651.8,623 654.5,623 657.3,623 660,623 662.8,622.9 665.5,622.9 668.3,622.9 671,622.9 673.8,622.9 676.5,623 679.3,623.1 682,623.1 684.8,623.2 687.5,623.3 690.3,623.4 693,623.5 695.8,623.5 698.6,623.6 701.3,623.7 704.1,623.7 706.8,623.8 709.6,623.9 712.3,624.1 715.1,624.2 717.8,624.3 720.6,624.4 723.3,624.5 726.1,624.6 728.8,624.7 731.6,624.7 734.3,624.8 737.1,624.9 739.8,625 742.6,625 745.3,625.1 748.1,625.1 750.8,625.1 753.6,625.1 756.3,625.1 759.1,625.2 761.8,625.2 764.6,625.2 767.4,625.2 770.1,625.2 772.9,625.3 775.6,625.3 778.4,625.4 781.1,625.4 783.9,625.3 786.6,625.4 789.4,625.3 792.1,625.2 794.9,625 797.6,625 800.4,624.8 803.1,624.8 805.9,624.7 808.6,624.6 811.4,624.5 814.1,624.4 816.9,624.3 819.6,624 822.4,623.8 825.1,623.6 827.9,623.5 830.6,623.4 833.4,623.4 836.2,623.3 838.9,623.1 841.7,623.1 844.4,623.1 847.2,622.9 849.9,622.8 852.7,622.8 855.4,622.6 858.2,622.5 860.9,622.4 863.7,622.3 866.4,622.2 869.2,622.1 871.9,622 874.7,621.9 877.4,621.8 880.2,621.8 882.9,621.8 885.7,621.8 888.4,621.8 891.2,621.7 893.9,621.7 896.7,621.6 899.4,621.5 902.2,621.4 905,621.4 907.7,621.5 910.5,621.8 913.2,621.9 916,622.1 918.7,622.3 921.5,622.4 924.2,622.6 927,622.7 929.7,622.8 932.5,622.9 935.2,622.9 938,623 940.7,623 943.5,623.1 946.2,623.2 949,623.3 951.7,623.4 954.5,623.5 957.2,623.6 960,623.7 962.7,623.8 965.5,623.9 968.2,623.9 971,624 973.8,624 976.5,624.1 979.3,624.2 982,624.3 984.8,624.4 987.5,624.5 990.3,624.6 993,624.7 995.8,624.8 998.5,624.9 1001.3,625 1004,625.1 1006.8,625.1 1009.5,625.2 1012.3,625.3 1015,625.3 1017.8,625.4 1020.5,625.4 1023.3,625.4 1026,625.5 1028.8,625.5 1031.5,625.5 1034.3,625.6 1037,625.6 1039.8,625.7 1042.6,625.8 1045.3,625.8 1048.1,625.9 1050.8,626 1053.6,626 1056.3,626.1 1059.1,626.1 1061.8,626.3 1064.6,626.4 1067.3,626.5 1070.1,626.6 1072.8,626.7 1075.6,626.9 1078.3,627 1081.1,627.2 1083.8,627.2 1086.6,627.3 1089.3,627.4 1092.1,627.5 1094.8,627.6 1097.6,627.7 1100.3,627.8 1103.1,627.9 1105.8,628 1108.6,628.2 1111.4,628.3 1114.1,628.4 1116.9,628.6 1119.6,628.7 1122.4,628.8 1125.1,628.9 1127.9,629 1130.6,629.1 1133.4,629.3 1136.1,629.4 1138.9,629.7 1141.6,629.9 1144.4,630.1 1147.1,630.3 1149.9,630.4 1152.6,630.6 1155.4,630.7 1158.1,630.9 1160.9,630.8 1163.6,630.8 1166.4,630.8 1169.1,630.7 1171.9,630.5 1174.6,630.4 1177.4,630.4 1180.2,630.3 1182.9,630.2 1185.7,630 1188.4,629.9 1191.2,629.7 1193.9,629.6 1196.7,629.5 1199.4,629.4 1202.2,629.3 1204.9,629.1 1207.7,629 1210.4,628.8 1213.2,628.7 1215.9,628.7 1218.7,628.7 1221.4,628.7 1224.2,628.8 1226.9,628.9 1229.7,628.8 1232.4,628.6 1235.2,628.6 1237.9,628.5 1240.7,628.5 1243.4,628.4 1246.2,628.4 1249,628.3 1251.7,628.3 1254.5,628.2 1257.2,628.2 1260,628.1 1262.7,628 1265.5,627.9 1268.2,627.8 1271,627.7 1273.7,627.6 1276.5,627.5 1279.2,627.4 1282,627.3 1284.7,627.3 1287.5,627.3 1290.2,627.2 1293,627.2 1295.7,627.2 1298.5,627.2 1301.2,627.2 1304,627.2 1306.7,627.2 1309.5,627.2 1312.2,627.2 1315,627.2 1317.8,627.3 1320.5,627.3 1323.3,627.3 1326,627.3 1328.8,627.2 1331.5,627.2 1334.3,627.1 1337,627.1 1339.8,627 1342.5,626.9 1345.3,626.9 1348,626.8 1350.8,626.8 1353.5,626.7 1356.3,626.6 1359,626.5 1361.8,626.4 1364.5,626.4 1367.3,626.3 1370,626.2 1372.8,626.1 1375.5,625.9 1378.3,625.8 1381,625.8 1383.8,625.8 1386.6,625.9 1389.3,625.9 1392.1,626 1394.8,626 1397.6,626 1400.3,626.1 1403.1,626.1 1405.8,626.2 1408.6,626.2 1411.3,626.3 1414.1,626.3 1416.8,626.3 1419.6,626.4 1422.3,626.4 1425.1,626.4 1427.8,626.4 1430.6,626.4 1433.3,626.4 1436.1,626.4 1438.8,626.5 1441.6,626.5 1444.3,626.6 1447.1,626.7 1449.8,626.7 1452.6,626.8 1455.4,626.9 1458.1,626.9 1460.9,627 1463.6,627 1466.4,627.1 1469.1,627.2 1471.9,627.3 1474.6,627.3 1477.4,627.4 1480.1,627.4 1482.9,627.4 1485.6,627.4 1488.4,627.4 1491.1,627.3 1493.9,627.1 1496.6,626.8 1499.4,626.7 1502.1,626.3 1504.9,625.7 1507.6,624.7 1510.4,623.9 1513.1,622.9 1515.9,621.9 1518.6,621 1521.4,619.7 1524.2,618 1526.9,616.5 1529.7,615 1532.4,613.6 1535.2,612.3 1537.9,610.7 1540.7,609 1543.4,606.9 1546.2,604.5 1548.9,601.4 1551.7,597.6 1554.4,594.3 1557.2,591.4 1559.9,588.6 1562.7,585.5 1565.4,582.1 1568.2,579 1570.9,576.4 1573.7,573.4 1576.4,570.5 1579.2,567.7 1581.9,564.9 1584.7,562.2 1587.4,559.3 1590.2,556.2 1593,553.1 1595.7,550.6 1598.5,548.3 1601.2,545.8 1604,543.5 1606.7,541.4 1609.5,539.1 1612.2,536.7 1615,534.4 1617.7,532.4 1620.5,530.4 1623.2,528.4 1626,526.6 1628.7,524.9 1631.5,523 1634.2,520.8 1637,518.4 1639.7,515.9 1642.5,513.6 1645.2,511.4 1648,509 1650.7,507 1653.5,504.8 1656.2,502.9 1659,500.8 1661.8,498.3 1664.5,496.1 1667.3,493.7 1670,491.1 1672.8,487.7 1675.5,484.1 1678.3,480.5 1681,477.3 1683.8,474.4 1686.5,471.2 1689.3,467.9 1692,464.4 1694.8,461.4 1697.5,458.5 1700.3,455.4 1703,452.5 1705.8,449.6 1708.5,446.7 1711.3,443.8 1714,440.8 1716.8,438.1 1719.5,435.8 1722.3,434 1725,431.9 1727.8,430.2 1730.6,428.8 1733.3,427.5 1736.1,426.1 1738.8,424.6 1741.6,423.2 1744.3,421.8 1747.1,420.1 1749.8,418.6 1752.6,416.9 1755.3,414.8 1758.1,412.7 1760.8,410.9 1763.6,409.2 1766.3,407.8 1769.1,406 1771.8,404.3 1774.6,402.9 1777.3,401.4 1780.1,399.8 1782.8,398.9 1785.6,397.9 1788.3,397.2 1791.1,396.6 1793.8,395.9 1796.6,395.1 1799.4,393.1 1802.1,392 1804.9,390.8 1807.6,389.4 1810.4,388 1813.1,387 1815.9,386.1 1818.6,385.5 1821.4,385.3 1824.1,384.6 1826.9,383.8 1829.6,382.9 1832.4,381.9 1835.1,380.9 1837.9,380.1 1840.6,379.2 1843.4,378.5 1846.1,377.3 1848.9,376.3 1851.6,375.5 1854.4,374.5 1857.1,373.5 1859.9,372.5 1862.6,371.5 1865.4,370.7 1868.2,370 1870.9,369.6 1873.7,369.2 1876.4,368.9 1879.2,368.6 1881.9,368.3 1884.7,368.1 1887.4,367.9 1890.2,367.5 1892.9,367.1 1895.7,367.2 1898.4,367.5" fill="none" stroke="#e23a6a" stroke-width="1.1"/><polyline points="10.6,643 13.3,643 16.1,643 18.8,643.1 21.6,643.1 24.3,643 27.1,642.9 29.8,642.7 32.6,642.2 35.3,641.9 38.1,641.6 40.8,641.3 43.6,641 46.3,640.5 49.1,640.4 51.8,640.1 54.6,639.8 57.3,639.4 60.1,639.1 62.8,639.1 65.6,638.9 68.3,638.7 71.1,638.4 73.8,638.5 76.6,638.6 79.4,638.6 82.1,638.7 84.9,638.7 87.6,638.6 90.4,638.6 93.1,638.5 95.9,638.2 98.6,638.2 101.4,638.1 104.1,638.1 106.9,638.2 109.6,638.3 112.4,638.5 115.1,638.6 117.9,638.7 120.6,638.7 123.4,638.8 126.1,638.8 128.9,638.7 131.6,638.8 134.4,639 137.1,639.1 139.9,639.2 142.6,639.2 145.4,639.3 148.2,639.4 150.9,639.4 153.7,637 156.4,635.6 159.2,634.1 161.9,632.3 164.7,630.8 167.4,629 170.2,627.1 172.9,625.3 175.7,623.9 178.4,622.7 181.2,621.4 183.9,620.6 186.7,619.6 189.4,618.6 192.2,617.7 194.9,616.8 197.7,616 200.4,615.5 203.2,614.8 205.9,614.1 208.7,613.6 211.4,613.3 214.2,613.3 217,613.4 219.7,613.3 222.5,613.3 225.2,613.1 228,612.9 230.7,612.7 233.5,612.7 236.2,612.6 239,612.6 241.7,612.5 244.5,612.7 247.2,613 250,613.7 252.7,614.7 255.5,615.4 258.2,615.9 261,616.6 263.7,617.3 266.5,617.9 269.2,618.4 272,619 274.7,619.5 277.5,620 280.2,620.4 283,620.6 285.8,621.1 288.5,621.6 291.3,622.2 294,622.8 296.8,623.3 299.5,623.7 302.3,624.2 305,624.6 307.8,625 310.5,625.4 313.3,625.8 316,626.4 318.8,627 321.5,627.5 324.3,627.9 327,628.3 329.8,628.6 332.5,628.9 335.3,629.3 338,629.5 340.8,629.6 343.5,629.8 346.3,629.9 349,630.1 351.8,630.3 354.6,630.5 357.3,630.7 360.1,630.9 362.8,631.1 365.6,631.2 368.3,631.1 371.1,631.1 373.8,631.1 376.6,631 379.3,630.9 382.1,630.9 384.8,631 387.6,631 390.3,631 393.1,631.1 395.8,631.3 398.6,631.6 401.3,631.8 404.1,632.1 406.8,632.3 409.6,632.6 412.3,632.8 415.1,632.8 417.8,633 420.6,633 423.4,633 426.1,633 428.9,632.9 431.6,632.8 434.4,632.5 437.1,632.1 439.9,631.8 442.6,631.6 445.4,631.5 448.1,631.3 450.9,631.1 453.6,630.7 456.4,630.2 459.1,629.7 461.9,629.3 464.6,628.8 467.4,628.1 470.1,627.2 472.9,626 475.6,625.3 478.4,624.3 481.1,623.8 483.9,623.1 486.6,622.4 489.4,621.7 492.2,621 494.9,620.9 497.7,620.5 500.4,620.3 503.2,620.1 505.9,619.9 508.7,619.6 511.4,619.4 514.2,619.5 516.9,619.3 519.7,619.2 522.4,618.9 525.2,618.7 527.9,618.5 530.7,618.4 533.4,618.4 536.2,618.3 538.9,618.2 541.7,618.1 544.4,617.9 547.2,617.7 549.9,617.5 552.7,617.3 555.4,617.1 558.2,616.8 561,616.3 563.7,616 566.5,615.6 569.2,615.6 572,615.6 574.7,615.5 577.5,615.4 580.2,615.3 583,615.3 585.7,615.3 588.5,615.3 591.2,615.2 594,615.1 596.7,615.1 599.5,615 602.2,614.9 605,614.8 607.7,614.6 610.5,614.7 613.2,614.7 616,614.5 618.7,614.5 621.5,614.5 624.2,614.4 627,614.4 629.8,614.4 632.5,614.7 635.3,615 638,615.3 640.8,615.7 643.5,616.1 646.3,616.3 649,616.6 651.8,616.6 654.5,616.6 657.3,616.9 660,617.1 662.8,617.2 665.5,617.3 668.3,617.5 671,617.7 673.8,618.1 676.5,618.6 679.3,618.9 682,619.2 684.8,619.7 687.5,620.2 690.3,620.7 693,621.2 695.8,621.5 698.6,621.8 701.3,622.2 704.1,622.5 706.8,622.9 709.6,623.4 712.3,623.9 715.1,624.3 717.8,624.7 720.6,625.1 723.3,625.5 726.1,625.8 728.8,626.2 731.6,626.4 734.3,626.7 737.1,626.9 739.8,627.1 742.6,627.3 745.3,627.4 748.1,627.5 750.8,627.4 753.6,627.2 756.3,627.2 759.1,627.2 761.8,627.1 764.6,627 767.4,627.2 770.1,627.3 772.9,627.3 775.6,627.4 778.4,627.5 781.1,627.5 783.9,627.2 786.6,627.3 789.4,626.7 792.1,626.4 794.9,625.7 797.6,625.4 800.4,624.7 803.1,624.7 805.9,624.3 808.6,623.9 811.4,623.5 814.1,623.2 816.9,622.9 819.6,621.8 822.4,621.2 825.1,620.4 827.9,620.1 830.6,620 833.4,620 836.2,619.8 838.9,619.3 841.7,619.4 844.4,619.3 847.2,618.9 849.9,618.7 852.7,618.5 855.4,618.2 858.2,617.9 860.9,617.6 863.7,617.3 866.4,617.1 869.2,616.9 871.9,616.7 874.7,616.6 877.4,616.6 880.2,616.8 882.9,617.1 885.7,617.1 888.4,617.1 891.2,617.2 893.9,617.3 896.7,617.1 899.4,616.9 902.2,616.8 905,616.9 907.7,617.5 910.5,618.6 913.2,619.4 916,620 918.7,620.8 921.5,621.5 924.2,622.1 927,622.6 929.7,623 932.5,623.3 935.2,623.4 938,623.6 940.7,623.9 943.5,624.2 946.2,624.5 949,624.8 951.7,625.1 954.5,625.4 957.2,625.9 960,626.1 962.7,626.4 965.5,626.6 968.2,626.7 971,626.8 973.8,626.8 976.5,627 979.3,627.2 982,627.4 984.8,627.8 987.5,628.1 990.3,628.4 993,628.7 995.8,628.9 998.5,629.1 1001.3,629.3 1004,629.4 1006.8,629.5 1009.5,629.7 1012.3,629.7 1015,629.7 1017.8,629.7 1020.5,629.7 1023.3,629.7 1026,629.6 1028.8,629.6 1031.5,629.6 1034.3,629.6 1037,629.7 1039.8,629.7 1042.6,629.9 1045.3,630 1048.1,630.1 1050.8,630.2 1053.6,630.2 1056.3,630.2 1059.1,630.2 1061.8,630.7 1064.6,630.9 1067.3,631.2 1070.1,631.4 1072.8,631.8 1075.6,632.1 1078.3,632.5 1081.1,632.8 1083.8,633 1086.6,633 1089.3,633.1 1092.1,633.3 1094.8,633.5 1097.6,633.6 1100.3,633.8 1103.1,634 1105.8,634.2 1108.6,634.5 1111.4,634.8 1114.1,635.1 1116.9,635.3 1119.6,635.5 1122.4,635.7 1125.1,635.9 1127.9,636 1130.6,636.2 1133.4,636.4 1136.1,636.9 1138.9,637.5 1141.6,637.9 1144.4,638.4 1147.1,638.8 1149.9,639.2 1152.6,639.5 1155.4,639.7 1158.1,639.8 1160.9,639.3 1163.6,639 1166.4,638.6 1169.1,637.9 1171.9,636.9 1174.6,636.4 1177.4,635.9 1180.2,635.3 1182.9,634.7 1185.7,633.9 1188.4,633.2 1191.2,632.5 1193.9,632 1196.7,631.4 1199.4,630.8 1202.2,630.3 1204.9,629.8 1207.7,629.2 1210.4,628.5 1213.2,628.2 1215.9,628 1218.7,628 1221.4,628.2 1224.2,628.6 1226.9,628.9 1229.7,628.5 1232.4,627.8 1235.2,627.6 1237.9,627.2 1240.7,627.3 1243.4,627.1 1246.2,627 1249,626.8 1251.7,626.7 1254.5,626.6 1257.2,626.5 1260,626.4 1262.7,626.1 1265.5,625.7 1268.2,625.4 1271,625.1 1273.7,624.8 1276.5,624.4 1279.2,624.2 1282,624 1284.7,624 1287.5,624 1290.2,624 1293,624.1 1295.7,624.1 1298.5,624.2 1301.2,624.3 1304,624.4 1306.7,624.5 1309.5,624.6 1312.2,624.8 1315,625 1317.8,625.2 1320.5,625.3 1323.3,625.5 1326,625.6 1328.8,625.4 1331.5,625.3 1334.3,625.2 1337,625 1339.8,624.8 1342.5,624.7 1345.3,624.5 1348,624.4 1350.8,624.2 1353.5,623.9 1356.3,623.7 1359,623.5 1361.8,623.4 1364.5,623.2 1367.3,623.1 1370,622.9 1372.8,622.6 1375.5,622.1 1378.3,621.8 1381,621.7 1383.8,622 1386.6,622.5 1389.3,622.7 1392.1,623 1394.8,623.3 1397.6,623.6 1400.3,623.8 1403.1,624.2 1405.8,624.4 1408.6,624.6 1411.3,624.9 1414.1,625.1 1416.8,625.2 1419.6,625.3 1422.3,625.4 1425.1,625.5 1427.8,625.6 1430.6,625.6 1433.3,625.7 1436.1,625.8 1438.8,626.1 1441.6,626.3 1444.3,626.5 1447.1,626.9 1449.8,627.1 1452.6,627.3 1455.4,627.5 1458.1,627.7 1460.9,627.9 1463.6,628.2 1466.4,628.4 1469.1,628.6 1471.9,628.9 1474.6,629.1 1477.4,629.3 1480.1,629.3 1482.9,629.1 1485.6,629 1488.4,628.9 1491.1,628.5 1493.9,627.7 1496.6,626.6 1499.4,626 1502.1,624.4 1504.9,622.4 1507.6,618.6 1510.4,615.5 1513.1,611.8 1515.9,608.3 1518.6,605.2 1521.4,601 1524.2,595 1526.9,589.9 1529.7,585.2 1532.4,580.9 1535.2,576.9 1537.9,572.1 1540.7,567 1543.4,560.1 1546.2,552.5 1548.9,542.3 1551.7,529.8 1554.4,519.5 1557.2,510.7 1559.9,503 1562.7,494.2 1565.4,484.4 1568.2,475.8 1570.9,469.6 1573.7,462.3 1576.4,454.8 1579.2,448.6 1581.9,442 1584.7,436.1 1587.4,429.7 1590.2,422.7 1593,415.7 1595.7,411.2 1598.5,407.8 1601.2,403.3 1604,400 1606.7,397.1 1609.5,393.9 1612.2,390 1615,386.7 1617.7,384.7 1620.5,382.7 1623.2,380.4 1626,379 1628.7,378.2 1631.5,376.7 1634.2,373.5 1637,369.7 1639.7,365.9 1642.5,362.5 1645.2,359.9 1648,356.6 1650.7,354.7 1653.5,351.9 1656.2,350.3 1659,348.1 1661.8,344.3 1664.5,341.4 1667.3,338.3 1670,334.1 1672.8,326.8 1675.5,319 1678.3,311.2 1681,305.3 1683.8,300.4 1686.5,294.7 1689.3,288.6 1692,282 1694.8,277.3 1697.5,272.8 1700.3,267.9 1703,264 1705.8,260 1708.5,256.1 1711.3,252 1714,247.8 1716.8,244.8 1719.5,243.2 1722.3,243.5 1725,242.9 1727.8,243.4 1730.6,245.3 1733.3,247.4 1736.1,248.8 1738.8,249.9 1741.6,251.4 1744.3,252.3 1747.1,252.6 1749.8,253.2 1752.6,252.9 1755.3,251 1758.1,249.2 1760.8,248.4 1763.6,248.3 1766.3,249.1 1769.1,248 1771.8,247.7 1774.6,248.3 1777.3,248.4 1780.1,248.3 1782.8,250.6 1785.6,252.5 1788.3,255.4 1791.1,258.4 1793.8,261.3 1796.6,263.5 1799.4,260.4 1802.1,261.5 1804.9,261.6 1807.6,261.5 1810.4,260.7 1813.1,261.8 1815.9,263.2 1818.6,265.9 1821.4,269.5 1824.1,271.3 1826.9,272.8 1829.6,273.6 1832.4,274 1835.1,274.1 1837.9,275.2 1840.6,275.9 1843.4,277.1 1846.1,276.2 1848.9,276.5 1851.6,277 1854.4,277.1 1857.1,276.9 1859.9,276.5 1862.6,276.4 1865.4,277.1 1868.2,278 1870.9,280 1873.7,282.1 1876.4,284.1 1879.2,286.5 1881.9,288.2 1884.7,290.9 1887.4,293 1890.2,294.5 1892.9,295.8 1895.7,298.8 1898.4,302.7" fill="none" stroke="#3a6cf0" stroke-width="1.1"/><line x1="1615" y1="555.5" x2="1938" y2="555.5" stroke="#3d68d8" stroke-width="1.1"/><path d="M1386.5 96H1407.5M1397 96V397.5M1385 385.5L1397 397.5L1409 385.5M1386.5 397.5H1407.5" stroke="#129a6c" stroke-width="2.2" fill="none" stroke-linecap="butt"/><path d="M1740.5 398.6H1761.5M1751 398.6V554.5M1739 542.5L1751 554.5L1763 542.5M1740.5 554.5H1761.5" stroke="#129a6c" stroke-width="2.2" fill="none" stroke-linecap="butt"/></g><text x="793.71" y="86.70" textLength="104.48" lengthAdjust="spacingAndGlyphs" font-family='"Liberation Sans", sans-serif' font-size="13.8" font-weight="normal" fill="#8a3d55">0.00% (3.4222)</text><text x="785.91" y="217.80" textLength="112.28" lengthAdjust="spacingAndGlyphs" font-family='"Liberation Sans", sans-serif' font-size="13.8" font-weight="normal" fill="#8a3d55">23.60% (2.7138)</text><text x="785.61" y="298.80" textLength="112.58" lengthAdjust="spacingAndGlyphs" font-family='"Liberation Sans", sans-serif' font-size="13.8" font-weight="normal" fill="#8a3d55">38.20% (2.2755)</text><text x="785.61" y="364.30" textLength="112.58" lengthAdjust="spacingAndGlyphs" font-family='"Liberation Sans", sans-serif' font-size="13.8" font-weight="normal" fill="#8a3d55">50.00% (1.9213)</text><text x="785.11" y="429.90" textLength="113.08" lengthAdjust="spacingAndGlyphs" font-family='"Liberation Sans", sans-serif' font-size="13.8" font-weight="normal" fill="#8a3d55">61.80% (1.5672)</text><text x="785.71" y="523.20" textLength="112.48" lengthAdjust="spacingAndGlyphs" font-family='"Liberation Sans", sans-serif' font-size="13.8" font-weight="normal" fill="#8a3d55">78.60% (1.0629)</text><text x="778.21" y="642.00" textLength="119.98" lengthAdjust="spacingAndGlyphs" font-family='"Liberation Sans", sans-serif' font-size="13.8" font-weight="normal" fill="#8a3d55">100.00% (0.4205)</text><rect x="1291" y="409.3" width="210.5" height="28.1" rx="4" fill="#3196f0"/><text x="1301.01" y="428.60" textLength="189.48" lengthAdjust="spacingAndGlyphs" font-family='"Liberation Sans", sans-serif' font-size="13.8" font-weight="normal" fill="#0c2848">−1.6277 (−47.65%) −16,277</text><rect x="1651.2" y="566.2" width="201.1" height="28.4" rx="4" fill="#3196f0"/><text x="1661.51" y="585.60" textLength="180.78" lengthAdjust="spacingAndGlyphs" font-family='"Liberation Sans", sans-serif' font-size="13.8" font-weight="normal" fill="#0c2848">−0.8417 (−47.23%) −8,417</text><g clip-path="url(#cr)"><line x1="11" y1="847.5" x2="1934" y2="847.5" stroke="#8c8c8c" stroke-width="1.3" stroke-dasharray="5.5 7.11"/><line x1="11" y1="926.5" x2="1934" y2="926.5" stroke="#8c8c8c" stroke-width="1.3" stroke-dasharray="5.5 7.11"/><line x1="11" y1="1005.5" x2="1934" y2="1005.5" stroke="#8c8c8c" stroke-width="1.3" stroke-dasharray="5.5 7.11"/><polygon points="12.3,910 13.5,907 16,931 18.5,930 21.7,902.7 24,896.6 27.6,880.6 30,865.8 32,837.5 35.7,846 38,867 41,850 43.8,861 45.8,845 49.2,893 51.7,873 54.9,889 57.3,884 59.5,870.7 63,915 64.5,901.5 68.4,896.6 71.4,905 73.3,948 76.3,949.5 79.2,953 82.4,948 87.4,928.6 89.8,929.3 93,919.4 96,927.3 98.4,925 100.9,938.4 103.8,934.7 107,950.7 110.2,942 112.7,968 116.1,950.7 119.3,952 121.8,947 126,923 130,926.8 134.1,966 139,950.7 143.2,953 145.7,933.5 151.3,946.5 154,775.3 157,842.4 159.4,845 162,837.5 164.9,843 171,824.5 175.2,846 179.1,877 182,877 185,895.8 189,890.4 196.9,894 202.3,904.7 206.2,899.8 212.1,932 214.6,952 219.5,958.8 222.7,959.3 225.9,941.6 228.8,942 231.3,949.5 235,950.7 237.5,954.4 240,955.6 242.4,945 244.3,966.7 247.4,985 249.8,1027.7 252.8,1027.7 257.2,989.3 261,996.7 263.4,998.7 267,988.3 269.5,994.3 271.5,985.9 275.7,987.6 280.6,987.6 283,963 286.8,976.5 291.2,998.2 294,996.7 298.6,981 304.5,985 308.4,982.2 311.9,984 316.3,992.5 318.7,1016 325,993.8 330.6,956.8 333,956.8 336,969 340.4,927.3 343.3,913.8 346.3,937.7 349.5,929.3 353.7,945.8 356.9,940 363,950.2 368,905.7 370.9,918.7 373.4,903.2 376.8,926.8 379.3,886 385.2,915 387.1,912 392.6,925.4 395.5,949.5 398.7,959.3 404.4,977.8 409.3,969.2 412.2,968 415.2,942 420.9,959.8 423.3,898.3 426.3,908 429,899.8 432,896 434.4,863.3 437.6,852.3 442.3,863.3 446.2,886.7 448.7,885 451.6,868.3 456.5,827.7 459.7,821.5 462.7,826.4 467.6,819.5 470.8,793.2 473.3,777.2 475.7,823.5 478.7,823.5 481.1,853.5 484.1,862 487.3,860.4 490,862 492.3,855.5 494.8,908.9 497.2,893.4 500.9,929.3 503.4,928.6 506.6,931 509,915.5 511.5,929.8 514.4,958.8 516.9,928.6 520.6,920 524.3,918 527.2,923.6 530.4,936.7 534.1,929.8 538.6,934.2 541.5,928.6 544.5,916.3 548.9,913 551.8,916.3 555.8,891 558.2,887.5 561.7,858 564.2,880.6 566.1,878.8 569.8,936.7 572.3,936.7 574.7,928.6 577.7,921.2 580.4,939.6 582.9,934.7 585.8,947 588.8,943.3 591.2,952 593.7,935.2 596.9,922.9 599.3,922 601.8,929.8 605,940.1 607.5,894.8 610.4,927.3 612.9,913 616.6,912.6 619,928.6 624,938.4 627.1,919.4 630.1,925.4 632.6,973.6 634.5,967.2 639.4,981.5 643.6,998.7 646.8,959.8 649.3,969.2 652.2,928.6 654.2,927.8 657.7,957.3 660.9,951.4 668.2,951.4 671.4,958 674.9,975.3 676.4,982.7 679.8,968.7 683,981 687.2,998.7 691.1,1001.6 693.6,1004.8 696,970.4 699,971.6 701.5,979 703.4,959.8 706.9,984 710,992.5 713.8,985.9 717.4,963.7 720.7,981 723.7,975.3 726.9,976.5 729.4,958.8 731.1,957.3 734.8,936 737.2,939.1 740.2,935.2 742.6,924.4 744.6,936.7 747.6,912.6 750.8,877.6 754,874.4 756.4,904 759.4,894.1 762.3,886.7 764.3,887.5 766.8,905.2 770.4,927.3 773.6,939.1 776.1,920 778.6,923.6 781,910.6 784,865.3 787.7,885 791.4,863.3 795.3,827.7 797.8,854 801.2,841.7 803.7,908.9 806.6,890.9 809.1,883 812.3,890.4 814.7,891.6 817.2,903.2 819.7,840 822.9,869.5 825.3,870.2 828.3,886 833.2,934.2 836.1,925.4 839.1,907.6 842.5,944 846.7,912.6 850.4,928.6 854.8,919.4 858.3,912.6 861.5,921.2 863.9,931 866.4,922.9 870.6,918.7 872.6,924.4 874.5,919.4 877.5,929.3 880.4,952 883.6,959.3 886.1,943.3 888.6,947 891.8,942.1 894.7,939.6 897.7,922 900.9,921.2 902.1,918.7 905,928.6 908.2,974 911.4,1012.2 913.9,990 916.9,991.8 921.8,993.3 924.7,985.9 927.2,984.4 929.6,955.6 932.1,957.3 935.3,927.8 938.5,936.7 941,951.4 945.1,952.4 948.3,959.3 951.8,966.2 954.3,959.8 956.7,972.8 959.9,951.4 962.5,950 966.2,932.2 969.8,934.7 973.5,921.2 976.7,942.1 979.7,950 982.1,944 984.6,966.2 987.6,959.3 990.8,966.7 994,957.3 996.4,962.3 998.9,933.5 1001.8,936.7 1004.3,925.4 1007.2,928.6 1009.7,947 1012.2,906.4 1015.4,906.4 1017.8,922.9 1021.5,919.4 1025.9,900.7 1030.9,920 1033.8,917.5 1039.2,938.4 1043.7,942.6 1046.1,939.6 1049.1,950 1053.5,922.9 1057.2,923.6 1059.7,931.8 1063.3,974 1065.3,981.5 1068.8,969.2 1070.7,969.6 1073.2,995 1076.1,966.7 1078.6,985.1 1081.8,990 1084.3,954.4 1086.7,955.6 1089.9,927.3 1092.9,947.5 1095.3,943.3 1098.3,950.7 1101.5,952 1103.9,956.8 1107.1,968.7 1110.1,975.3 1112.1,972.1 1114.5,981 1117.5,965.5 1120.4,972.8 1123.6,969.6 1126.8,959.8 1128.6,956.8 1131,932.2 1134.2,969.2 1136.7,1012.2 1139.1,1019.6 1141.6,969.2 1145,998.2 1147.5,977.8 1152.4,964.2 1154.9,951.9 1158.1,920 1161.3,865.3 1164.2,872 1166.7,857.2 1169.2,833.8 1172.1,816.1 1175.3,875.2 1177.8,873.2 1180.2,862.1 1185.9,856 1188.8,865.8 1191.8,855.5 1194.3,873.2 1196.7,873.7 1199.9,880.6 1202.4,876.9 1205.5,877.6 1207.9,859.7 1210.3,865.3 1213.5,896.6 1216,932.7 1219.2,936.7 1222.1,964.7 1224.1,983.4 1227.1,966.7 1229.5,899.8 1233.2,890.4 1235.7,915 1237.4,913.8 1241.3,933.5 1243.8,923.6 1247.2,918 1251.2,929.3 1254.6,927.3 1257.8,925.4 1260.3,927.3 1262.7,899.8 1265.2,904 1268.4,899.8 1270.9,901.5 1274.3,890.9 1276.8,890 1279.2,904 1282.4,919.4 1284.9,939.1 1288.1,936.7 1290.6,945 1293,938.4 1296,940.1 1298.4,958.8 1302.1,934.2 1304.6,944 1307,944 1310.2,958.8 1312.7,979 1315.6,974.6 1318.1,966.7 1320.6,952.4 1324.3,950.7 1326,956.8 1329.2,924.4 1331.6,908.9 1334.1,883.5 1337.3,914.5 1339.8,900.3 1343.9,902.7 1347.6,900.7 1350.6,903.2 1353.8,888.4 1357.5,904 1359.9,908.1 1361.9,901.5 1365.4,913 1367.8,903.2 1371,905.7 1375.2,848.6 1381.6,913.8 1385,971.6 1387.5,981 1390,968 1392.4,970.4 1394.9,966.2 1398.1,970.4 1400.5,967.2 1404.2,973.6 1408.7,952 1412.1,950.7 1414.6,958.8 1417.8,934.2 1419.5,942.6 1422.7,934.7 1425.9,939.1 1428.3,934.7 1431.3,938.4 1433.8,932.7 1436.7,936.7 1440,954 1442,966.4 1444.9,953.6 1447.4,991 1449.8,968.8 1454.8,958.5 1458.5,943 1460.9,951.1 1463.4,966.9 1467.1,961.5 1470,966.9 1473.2,975 1475.7,975 1480.6,902.4 1483.1,884 1486.3,887.6 1488.7,881.5 1491.7,847 1494.1,826.1 1496.6,792.9 1500.3,811.4 1504.5,772 1508.4,755.3 1510.9,794.1 1513.3,788.7 1516.8,795.4 1519.2,794.6 1522.4,781.8 1524.9,767.6 1527.4,768.3 1530.6,785.5 1536,801 1538.4,794.1 1540.9,788.7 1543.3,771.5 1547.8,760.2 1552,749.4 1555.6,797.8 1560.1,842.9 1565.5,821.7 1568.4,822.4 1571.6,880.7 1573.4,869.9 1577.3,868 1579,874.8 1582.2,869.2 1585.2,872.4 1589.6,865.5 1593,857.6 1597,899.5 1599.4,908.6 1601.2,904.9 1606.8,915.9 1612.2,900 1614.7,903.6 1618.4,927.5 1620.9,929.5 1624.1,923.3 1626.5,936.9 1629,944.2 1631.9,939.3 1634.9,896.3 1639.8,880.7 1642.3,887.1 1645.5,892.1 1648.7,889.6 1651.1,920.1 1653.6,903.6 1656.5,922.6 1659.5,909.8 1662.7,878.3 1665.1,891.3 1667.6,888.9 1673.3,829.8 1676.2,822.4 1679.2,820.7 1681.6,826.1 1683.7,880.5 1688.6,863.3 1692.3,862.1 1696,873.2 1700.2,875.1 1703.4,890.4 1707.1,886.7 1711.5,885 1714.4,876.9 1719.4,924.3 1722.3,970.3 1725.5,949.9 1730.4,983.9 1734.1,989.3 1737.1,976 1740.3,972.8 1742,975.3 1744.5,969.6 1747.7,971.1 1752.6,942 1756.3,908.8 1758.2,907.1 1761.2,913 1767.3,942.5 1769.8,913 1775.9,940.1 1780.4,940.1 1783.3,982.6 1785.8,974 1789.5,988.8 1792.7,989.3 1795.1,994.2 1797.6,984.4 1799.8,876.9 1803,937.6 1806,931 1807.9,927.8 1810.9,917.9 1813.3,939.1 1816.5,945 1819,960.5 1822.2,970.3 1825.1,950.7 1827.6,944 1830.6,942 1833,929.3 1836.2,926.8 1838.7,937.1 1841.9,932.2 1844.3,939.1 1846.8,907.1 1850.2,921.1 1854.7,929.3 1859.1,918.7 1862,917.4 1864,918 1866.5,934.7 1868.2,935.9 1873.8,965.4 1877.3,965.4 1879.3,971.6 1881.7,961.7 1885.4,977.7 1891.1,953.1 1893.5,950.7 1896,983.9 1899.4,999.9 1899.4,847.5 12.3,847.5" fill="url(#gob)" clip-path="url(#cob)"/><polygon points="12.3,910 13.5,907 16,931 18.5,930 21.7,902.7 24,896.6 27.6,880.6 30,865.8 32,837.5 35.7,846 38,867 41,850 43.8,861 45.8,845 49.2,893 51.7,873 54.9,889 57.3,884 59.5,870.7 63,915 64.5,901.5 68.4,896.6 71.4,905 73.3,948 76.3,949.5 79.2,953 82.4,948 87.4,928.6 89.8,929.3 93,919.4 96,927.3 98.4,925 100.9,938.4 103.8,934.7 107,950.7 110.2,942 112.7,968 116.1,950.7 119.3,952 121.8,947 126,923 130,926.8 134.1,966 139,950.7 143.2,953 145.7,933.5 151.3,946.5 154,775.3 157,842.4 159.4,845 162,837.5 164.9,843 171,824.5 175.2,846 179.1,877 182,877 185,895.8 189,890.4 196.9,894 202.3,904.7 206.2,899.8 212.1,932 214.6,952 219.5,958.8 222.7,959.3 225.9,941.6 228.8,942 231.3,949.5 235,950.7 237.5,954.4 240,955.6 242.4,945 244.3,966.7 247.4,985 249.8,1027.7 252.8,1027.7 257.2,989.3 261,996.7 263.4,998.7 267,988.3 269.5,994.3 271.5,985.9 275.7,987.6 280.6,987.6 283,963 286.8,976.5 291.2,998.2 294,996.7 298.6,981 304.5,985 308.4,982.2 311.9,984 316.3,992.5 318.7,1016 325,993.8 330.6,956.8 333,956.8 336,969 340.4,927.3 343.3,913.8 346.3,937.7 349.5,929.3 353.7,945.8 356.9,940 363,950.2 368,905.7 370.9,918.7 373.4,903.2 376.8,926.8 379.3,886 385.2,915 387.1,912 392.6,925.4 395.5,949.5 398.7,959.3 404.4,977.8 409.3,969.2 412.2,968 415.2,942 420.9,959.8 423.3,898.3 426.3,908 429,899.8 432,896 434.4,863.3 437.6,852.3 442.3,863.3 446.2,886.7 448.7,885 451.6,868.3 456.5,827.7 459.7,821.5 462.7,826.4 467.6,819.5 470.8,793.2 473.3,777.2 475.7,823.5 478.7,823.5 481.1,853.5 484.1,862 487.3,860.4 490,862 492.3,855.5 494.8,908.9 497.2,893.4 500.9,929.3 503.4,928.6 506.6,931 509,915.5 511.5,929.8 514.4,958.8 516.9,928.6 520.6,920 524.3,918 527.2,923.6 530.4,936.7 534.1,929.8 538.6,934.2 541.5,928.6 544.5,916.3 548.9,913 551.8,916.3 555.8,891 558.2,887.5 561.7,858 564.2,880.6 566.1,878.8 569.8,936.7 572.3,936.7 574.7,928.6 577.7,921.2 580.4,939.6 582.9,934.7 585.8,947 588.8,943.3 591.2,952 593.7,935.2 596.9,922.9 599.3,922 601.8,929.8 605,940.1 607.5,894.8 610.4,927.3 612.9,913 616.6,912.6 619,928.6 624,938.4 627.1,919.4 630.1,925.4 632.6,973.6 634.5,967.2 639.4,981.5 643.6,998.7 646.8,959.8 649.3,969.2 652.2,928.6 654.2,927.8 657.7,957.3 660.9,951.4 668.2,951.4 671.4,958 674.9,975.3 676.4,982.7 679.8,968.7 683,981 687.2,998.7 691.1,1001.6 693.6,1004.8 696,970.4 699,971.6 701.5,979 703.4,959.8 706.9,984 710,992.5 713.8,985.9 717.4,963.7 720.7,981 723.7,975.3 726.9,976.5 729.4,958.8 731.1,957.3 734.8,936 737.2,939.1 740.2,935.2 742.6,924.4 744.6,936.7 747.6,912.6 750.8,877.6 754,874.4 756.4,904 759.4,894.1 762.3,886.7 764.3,887.5 766.8,905.2 770.4,927.3 773.6,939.1 776.1,920 778.6,923.6 781,910.6 784,865.3 787.7,885 791.4,863.3 795.3,827.7 797.8,854 801.2,841.7 803.7,908.9 806.6,890.9 809.1,883 812.3,890.4 814.7,891.6 817.2,903.2 819.7,840 822.9,869.5 825.3,870.2 828.3,886 833.2,934.2 836.1,925.4 839.1,907.6 842.5,944 846.7,912.6 850.4,928.6 854.8,919.4 858.3,912.6 861.5,921.2 863.9,931 866.4,922.9 870.6,918.7 872.6,924.4 874.5,919.4 877.5,929.3 880.4,952 883.6,959.3 886.1,943.3 888.6,947 891.8,942.1 894.7,939.6 897.7,922 900.9,921.2 902.1,918.7 905,928.6 908.2,974 911.4,1012.2 913.9,990 916.9,991.8 921.8,993.3 924.7,985.9 927.2,984.4 929.6,955.6 932.1,957.3 935.3,927.8 938.5,936.7 941,951.4 945.1,952.4 948.3,959.3 951.8,966.2 954.3,959.8 956.7,972.8 959.9,951.4 962.5,950 966.2,932.2 969.8,934.7 973.5,921.2 976.7,942.1 979.7,950 982.1,944 984.6,966.2 987.6,959.3 990.8,966.7 994,957.3 996.4,962.3 998.9,933.5 1001.8,936.7 1004.3,925.4 1007.2,928.6 1009.7,947 1012.2,906.4 1015.4,906.4 1017.8,922.9 1021.5,919.4 1025.9,900.7 1030.9,920 1033.8,917.5 1039.2,938.4 1043.7,942.6 1046.1,939.6 1049.1,950 1053.5,922.9 1057.2,923.6 1059.7,931.8 1063.3,974 1065.3,981.5 1068.8,969.2 1070.7,969.6 1073.2,995 1076.1,966.7 1078.6,985.1 1081.8,990 1084.3,954.4 1086.7,955.6 1089.9,927.3 1092.9,947.5 1095.3,943.3 1098.3,950.7 1101.5,952 1103.9,956.8 1107.1,968.7 1110.1,975.3 1112.1,972.1 1114.5,981 1117.5,965.5 1120.4,972.8 1123.6,969.6 1126.8,959.8 1128.6,956.8 1131,932.2 1134.2,969.2 1136.7,1012.2 1139.1,1019.6 1141.6,969.2 1145,998.2 1147.5,977.8 1152.4,964.2 1154.9,951.9 1158.1,920 1161.3,865.3 1164.2,872 1166.7,857.2 1169.2,833.8 1172.1,816.1 1175.3,875.2 1177.8,873.2 1180.2,862.1 1185.9,856 1188.8,865.8 1191.8,855.5 1194.3,873.2 1196.7,873.7 1199.9,880.6 1202.4,876.9 1205.5,877.6 1207.9,859.7 1210.3,865.3 1213.5,896.6 1216,932.7 1219.2,936.7 1222.1,964.7 1224.1,983.4 1227.1,966.7 1229.5,899.8 1233.2,890.4 1235.7,915 1237.4,913.8 1241.3,933.5 1243.8,923.6 1247.2,918 1251.2,929.3 1254.6,927.3 1257.8,925.4 1260.3,927.3 1262.7,899.8 1265.2,904 1268.4,899.8 1270.9,901.5 1274.3,890.9 1276.8,890 1279.2,904 1282.4,919.4 1284.9,939.1 1288.1,936.7 1290.6,945 1293,938.4 1296,940.1 1298.4,958.8 1302.1,934.2 1304.6,944 1307,944 1310.2,958.8 1312.7,979 1315.6,974.6 1318.1,966.7 1320.6,952.4 1324.3,950.7 1326,956.8 1329.2,924.4 1331.6,908.9 1334.1,883.5 1337.3,914.5 1339.8,900.3 1343.9,902.7 1347.6,900.7 1350.6,903.2 1353.8,888.4 1357.5,904 1359.9,908.1 1361.9,901.5 1365.4,913 1367.8,903.2 1371,905.7 1375.2,848.6 1381.6,913.8 1385,971.6 1387.5,981 1390,968 1392.4,970.4 1394.9,966.2 1398.1,970.4 1400.5,967.2 1404.2,973.6 1408.7,952 1412.1,950.7 1414.6,958.8 1417.8,934.2 1419.5,942.6 1422.7,934.7 1425.9,939.1 1428.3,934.7 1431.3,938.4 1433.8,932.7 1436.7,936.7 1440,954 1442,966.4 1444.9,953.6 1447.4,991 1449.8,968.8 1454.8,958.5 1458.5,943 1460.9,951.1 1463.4,966.9 1467.1,961.5 1470,966.9 1473.2,975 1475.7,975 1480.6,902.4 1483.1,884 1486.3,887.6 1488.7,881.5 1491.7,847 1494.1,826.1 1496.6,792.9 1500.3,811.4 1504.5,772 1508.4,755.3 1510.9,794.1 1513.3,788.7 1516.8,795.4 1519.2,794.6 1522.4,781.8 1524.9,767.6 1527.4,768.3 1530.6,785.5 1536,801 1538.4,794.1 1540.9,788.7 1543.3,771.5 1547.8,760.2 1552,749.4 1555.6,797.8 1560.1,842.9 1565.5,821.7 1568.4,822.4 1571.6,880.7 1573.4,869.9 1577.3,868 1579,874.8 1582.2,869.2 1585.2,872.4 1589.6,865.5 1593,857.6 1597,899.5 1599.4,908.6 1601.2,904.9 1606.8,915.9 1612.2,900 1614.7,903.6 1618.4,927.5 1620.9,929.5 1624.1,923.3 1626.5,936.9 1629,944.2 1631.9,939.3 1634.9,896.3 1639.8,880.7 1642.3,887.1 1645.5,892.1 1648.7,889.6 1651.1,920.1 1653.6,903.6 1656.5,922.6 1659.5,909.8 1662.7,878.3 1665.1,891.3 1667.6,888.9 1673.3,829.8 1676.2,822.4 1679.2,820.7 1681.6,826.1 1683.7,880.5 1688.6,863.3 1692.3,862.1 1696,873.2 1700.2,875.1 1703.4,890.4 1707.1,886.7 1711.5,885 1714.4,876.9 1719.4,924.3 1722.3,970.3 1725.5,949.9 1730.4,983.9 1734.1,989.3 1737.1,976 1740.3,972.8 1742,975.3 1744.5,969.6 1747.7,971.1 1752.6,942 1756.3,908.8 1758.2,907.1 1761.2,913 1767.3,942.5 1769.8,913 1775.9,940.1 1780.4,940.1 1783.3,982.6 1785.8,974 1789.5,988.8 1792.7,989.3 1795.1,994.2 1797.6,984.4 1799.8,876.9 1803,937.6 1806,931 1807.9,927.8 1810.9,917.9 1813.3,939.1 1816.5,945 1819,960.5 1822.2,970.3 1825.1,950.7 1827.6,944 1830.6,942 1833,929.3 1836.2,926.8 1838.7,937.1 1841.9,932.2 1844.3,939.1 1846.8,907.1 1850.2,921.1 1854.7,929.3 1859.1,918.7 1862,917.4 1864,918 1866.5,934.7 1868.2,935.9 1873.8,965.4 1877.3,965.4 1879.3,971.6 1881.7,961.7 1885.4,977.7 1891.1,953.1 1893.5,950.7 1896,983.9 1899.4,999.9 1899.4,1005.5 12.3,1005.5" fill="url(#gos)" clip-path="url(#cos)"/><polyline points="12.3,910 13.5,907 16,931 18.5,930 21.7,902.7 24,896.6 27.6,880.6 30,865.8 32,837.5 35.7,846 38,867 41,850 43.8,861 45.8,845 49.2,893 51.7,873 54.9,889 57.3,884 59.5,870.7 63,915 64.5,901.5 68.4,896.6 71.4,905 73.3,948 76.3,949.5 79.2,953 82.4,948 87.4,928.6 89.8,929.3 93,919.4 96,927.3 98.4,925 100.9,938.4 103.8,934.7 107,950.7 110.2,942 112.7,968 116.1,950.7 119.3,952 121.8,947 126,923 130,926.8 134.1,966 139,950.7 143.2,953 145.7,933.5 151.3,946.5 154,775.3 157,842.4 159.4,845 162,837.5 164.9,843 171,824.5 175.2,846 179.1,877 182,877 185,895.8 189,890.4 196.9,894 202.3,904.7 206.2,899.8 212.1,932 214.6,952 219.5,958.8 222.7,959.3 225.9,941.6 228.8,942 231.3,949.5 235,950.7 237.5,954.4 240,955.6 242.4,945 244.3,966.7 247.4,985 249.8,1027.7 252.8,1027.7 257.2,989.3 261,996.7 263.4,998.7 267,988.3 269.5,994.3 271.5,985.9 275.7,987.6 280.6,987.6 283,963 286.8,976.5 291.2,998.2 294,996.7 298.6,981 304.5,985 308.4,982.2 311.9,984 316.3,992.5 318.7,1016 325,993.8 330.6,956.8 333,956.8 336,969 340.4,927.3 343.3,913.8 346.3,937.7 349.5,929.3 353.7,945.8 356.9,940 363,950.2 368,905.7 370.9,918.7 373.4,903.2 376.8,926.8 379.3,886 385.2,915 387.1,912 392.6,925.4 395.5,949.5 398.7,959.3 404.4,977.8 409.3,969.2 412.2,968 415.2,942 420.9,959.8 423.3,898.3 426.3,908 429,899.8 432,896 434.4,863.3 437.6,852.3 442.3,863.3 446.2,886.7 448.7,885 451.6,868.3 456.5,827.7 459.7,821.5 462.7,826.4 467.6,819.5 470.8,793.2 473.3,777.2 475.7,823.5 478.7,823.5 481.1,853.5 484.1,862 487.3,860.4 490,862 492.3,855.5 494.8,908.9 497.2,893.4 500.9,929.3 503.4,928.6 506.6,931 509,915.5 511.5,929.8 514.4,958.8 516.9,928.6 520.6,920 524.3,918 527.2,923.6 530.4,936.7 534.1,929.8 538.6,934.2 541.5,928.6 544.5,916.3 548.9,913 551.8,916.3 555.8,891 558.2,887.5 561.7,858 564.2,880.6 566.1,878.8 569.8,936.7 572.3,936.7 574.7,928.6 577.7,921.2 580.4,939.6 582.9,934.7 585.8,947 588.8,943.3 591.2,952 593.7,935.2 596.9,922.9 599.3,922 601.8,929.8 605,940.1 607.5,894.8 610.4,927.3 612.9,913 616.6,912.6 619,928.6 624,938.4 627.1,919.4 630.1,925.4 632.6,973.6 634.5,967.2 639.4,981.5 643.6,998.7 646.8,959.8 649.3,969.2 652.2,928.6 654.2,927.8 657.7,957.3 660.9,951.4 668.2,951.4 671.4,958 674.9,975.3 676.4,982.7 679.8,968.7 683,981 687.2,998.7 691.1,1001.6 693.6,1004.8 696,970.4 699,971.6 701.5,979 703.4,959.8 706.9,984 710,992.5 713.8,985.9 717.4,963.7 720.7,981 723.7,975.3 726.9,976.5 729.4,958.8 731.1,957.3 734.8,936 737.2,939.1 740.2,935.2 742.6,924.4 744.6,936.7 747.6,912.6 750.8,877.6 754,874.4 756.4,904 759.4,894.1 762.3,886.7 764.3,887.5 766.8,905.2 770.4,927.3 773.6,939.1 776.1,920 778.6,923.6 781,910.6 784,865.3 787.7,885 791.4,863.3 795.3,827.7 797.8,854 801.2,841.7 803.7,908.9 806.6,890.9 809.1,883 812.3,890.4 814.7,891.6 817.2,903.2 819.7,840 822.9,869.5 825.3,870.2 828.3,886 833.2,934.2 836.1,925.4 839.1,907.6 842.5,944 846.7,912.6 850.4,928.6 854.8,919.4 858.3,912.6 861.5,921.2 863.9,931 866.4,922.9 870.6,918.7 872.6,924.4 874.5,919.4 877.5,929.3 880.4,952 883.6,959.3 886.1,943.3 888.6,947 891.8,942.1 894.7,939.6 897.7,922 900.9,921.2 902.1,918.7 905,928.6 908.2,974 911.4,1012.2 913.9,990 916.9,991.8 921.8,993.3 924.7,985.9 927.2,984.4 929.6,955.6 932.1,957.3 935.3,927.8 938.5,936.7 941,951.4 945.1,952.4 948.3,959.3 951.8,966.2 954.3,959.8 956.7,972.8 959.9,951.4 962.5,950 966.2,932.2 969.8,934.7 973.5,921.2 976.7,942.1 979.7,950 982.1,944 984.6,966.2 987.6,959.3 990.8,966.7 994,957.3 996.4,962.3 998.9,933.5 1001.8,936.7 1004.3,925.4 1007.2,928.6 1009.7,947 1012.2,906.4 1015.4,906.4 1017.8,922.9 1021.5,919.4 1025.9,900.7 1030.9,920 1033.8,917.5 1039.2,938.4 1043.7,942.6 1046.1,939.6 1049.1,950 1053.5,922.9 1057.2,923.6 1059.7,931.8 1063.3,974 1065.3,981.5 1068.8,969.2 1070.7,969.6 1073.2,995 1076.1,966.7 1078.6,985.1 1081.8,990 1084.3,954.4 1086.7,955.6 1089.9,927.3 1092.9,947.5 1095.3,943.3 1098.3,950.7 1101.5,952 1103.9,956.8 1107.1,968.7 1110.1,975.3 1112.1,972.1 1114.5,981 1117.5,965.5 1120.4,972.8 1123.6,969.6 1126.8,959.8 1128.6,956.8 1131,932.2 1134.2,969.2 1136.7,1012.2 1139.1,1019.6 1141.6,969.2 1145,998.2 1147.5,977.8 1152.4,964.2 1154.9,951.9 1158.1,920 1161.3,865.3 1164.2,872 1166.7,857.2 1169.2,833.8 1172.1,816.1 1175.3,875.2 1177.8,873.2 1180.2,862.1 1185.9,856 1188.8,865.8 1191.8,855.5 1194.3,873.2 1196.7,873.7 1199.9,880.6 1202.4,876.9 1205.5,877.6 1207.9,859.7 1210.3,865.3 1213.5,896.6 1216,932.7 1219.2,936.7 1222.1,964.7 1224.1,983.4 1227.1,966.7 1229.5,899.8 1233.2,890.4 1235.7,915 1237.4,913.8 1241.3,933.5 1243.8,923.6 1247.2,918 1251.2,929.3 1254.6,927.3 1257.8,925.4 1260.3,927.3 1262.7,899.8 1265.2,904 1268.4,899.8 1270.9,901.5 1274.3,890.9 1276.8,890 1279.2,904 1282.4,919.4 1284.9,939.1 1288.1,936.7 1290.6,945 1293,938.4 1296,940.1 1298.4,958.8 1302.1,934.2 1304.6,944 1307,944 1310.2,958.8 1312.7,979 1315.6,974.6 1318.1,966.7 1320.6,952.4 1324.3,950.7 1326,956.8 1329.2,924.4 1331.6,908.9 1334.1,883.5 1337.3,914.5 1339.8,900.3 1343.9,902.7 1347.6,900.7 1350.6,903.2 1353.8,888.4 1357.5,904 1359.9,908.1 1361.9,901.5 1365.4,913 1367.8,903.2 1371,905.7 1375.2,848.6 1381.6,913.8 1385,971.6 1387.5,981 1390,968 1392.4,970.4 1394.9,966.2 1398.1,970.4 1400.5,967.2 1404.2,973.6 1408.7,952 1412.1,950.7 1414.6,958.8 1417.8,934.2 1419.5,942.6 1422.7,934.7 1425.9,939.1 1428.3,934.7 1431.3,938.4 1433.8,932.7 1436.7,936.7 1440,954 1442,966.4 1444.9,953.6 1447.4,991 1449.8,968.8 1454.8,958.5 1458.5,943 1460.9,951.1 1463.4,966.9 1467.1,961.5 1470,966.9 1473.2,975 1475.7,975 1480.6,902.4 1483.1,884 1486.3,887.6 1488.7,881.5 1491.7,847 1494.1,826.1 1496.6,792.9 1500.3,811.4 1504.5,772 1508.4,755.3 1510.9,794.1 1513.3,788.7 1516.8,795.4 1519.2,794.6 1522.4,781.8 1524.9,767.6 1527.4,768.3 1530.6,785.5 1536,801 1538.4,794.1 1540.9,788.7 1543.3,771.5 1547.8,760.2 1552,749.4 1555.6,797.8 1560.1,842.9 1565.5,821.7 1568.4,822.4 1571.6,880.7 1573.4,869.9 1577.3,868 1579,874.8 1582.2,869.2 1585.2,872.4 1589.6,865.5 1593,857.6 1597,899.5 1599.4,908.6 1601.2,904.9 1606.8,915.9 1612.2,900 1614.7,903.6 1618.4,927.5 1620.9,929.5 1624.1,923.3 1626.5,936.9 1629,944.2 1631.9,939.3 1634.9,896.3 1639.8,880.7 1642.3,887.1 1645.5,892.1 1648.7,889.6 1651.1,920.1 1653.6,903.6 1656.5,922.6 1659.5,909.8 1662.7,878.3 1665.1,891.3 1667.6,888.9 1673.3,829.8 1676.2,822.4 1679.2,820.7 1681.6,826.1 1683.7,880.5 1688.6,863.3 1692.3,862.1 1696,873.2 1700.2,875.1 1703.4,890.4 1707.1,886.7 1711.5,885 1714.4,876.9 1719.4,924.3 1722.3,970.3 1725.5,949.9 1730.4,983.9 1734.1,989.3 1737.1,976 1740.3,972.8 1742,975.3 1744.5,969.6 1747.7,971.1 1752.6,942 1756.3,908.8 1758.2,907.1 1761.2,913 1767.3,942.5 1769.8,913 1775.9,940.1 1780.4,940.1 1783.3,982.6 1785.8,974 1789.5,988.8 1792.7,989.3 1795.1,994.2 1797.6,984.4 1799.8,876.9 1803,937.6 1806,931 1807.9,927.8 1810.9,917.9 1813.3,939.1 1816.5,945 1819,960.5 1822.2,970.3 1825.1,950.7 1827.6,944 1830.6,942 1833,929.3 1836.2,926.8 1838.7,937.1 1841.9,932.2 1844.3,939.1 1846.8,907.1 1850.2,921.1 1854.7,929.3 1859.1,918.7 1862,917.4 1864,918 1866.5,934.7 1868.2,935.9 1873.8,965.4 1877.3,965.4 1879.3,971.6 1881.7,961.7 1885.4,977.7 1891.1,953.1 1893.5,950.7 1896,983.9 1899.4,999.9" fill="none" stroke="#1a1c22" stroke-width="1.5" stroke-linejoin="round"/></g><text x="1950.30" y="87.50" textLength="60.70" lengthAdjust="spacingAndGlyphs" font-family='"Liberation Sans", sans-serif' font-size="18" font-weight="normal" fill="#131722">3.5000</text><text x="1950.30" y="180.00" textLength="60.70" lengthAdjust="spacingAndGlyphs" font-family='"Liberation Sans", sans-serif' font-size="18" font-weight="normal" fill="#131722">3.0000</text><text x="1950.30" y="272.50" textLength="60.70" lengthAdjust="spacingAndGlyphs" font-family='"Liberation Sans", sans-serif' font-size="18" font-weight="normal" fill="#131722">2.5000</text><text x="1950.30" y="365.00" textLength="60.70" lengthAdjust="spacingAndGlyphs" font-family='"Liberation Sans", sans-serif' font-size="18" font-weight="normal" fill="#131722">2.0000</text><text x="1950.30" y="457.50" textLength="60.70" lengthAdjust="spacingAndGlyphs" font-family='"Liberation Sans", sans-serif' font-size="18" font-weight="normal" fill="#131722">1.5000</text><text x="1950.30" y="550.00" textLength="60.70" lengthAdjust="spacingAndGlyphs" font-family='"Liberation Sans", sans-serif' font-size="18" font-weight="normal" fill="#131722">1.0000</text><text x="1950.30" y="642.50" textLength="60.70" lengthAdjust="spacingAndGlyphs" font-family='"Liberation Sans", sans-serif' font-size="18" font-weight="normal" fill="#131722">0.5000</text><rect x="1940.5" y="34.5" width="97" height="31" rx="4" fill="none" stroke="#f3f3f3" stroke-width="1"/><text x="1952.92" y="55.10" textLength="28.96" lengthAdjust="spacingAndGlyphs" font-family='"Liberation Sans", sans-serif' font-size="13.6" font-weight="normal" fill="#131722">USD</text><path d="M1939 543H2016.5Q2019 543 2019 545.5V566.3Q2019 568.8 2016.5 568.8H1939Z" fill="#2864fa"/><text x="1950.30" y="561.80" textLength="60.70" lengthAdjust="spacingAndGlyphs" font-family='"Liberation Sans", sans-serif' font-size="18" font-weight="normal" fill="#ffffff">0.9342</text><text x="1950.60" y="736.00" textLength="60.30" lengthAdjust="spacingAndGlyphs" font-family='"Liberation Sans", sans-serif' font-size="18" font-weight="normal" fill="#131722">100.00</text><text x="1950.30" y="815.00" textLength="50.10" lengthAdjust="spacingAndGlyphs" font-family='"Liberation Sans", sans-serif' font-size="18" font-weight="normal" fill="#131722">80.00</text><text x="1950.30" y="894.00" textLength="50.10" lengthAdjust="spacingAndGlyphs" font-family='"Liberation Sans", sans-serif' font-size="18" font-weight="normal" fill="#131722">60.00</text><text x="1950.30" y="973.00" textLength="50.10" lengthAdjust="spacingAndGlyphs" font-family='"Liberation Sans", sans-serif' font-size="18" font-weight="normal" fill="#131722">40.00</text><text x="1950.30" y="1052.00" textLength="50.10" lengthAdjust="spacingAndGlyphs" font-family='"Liberation Sans", sans-serif' font-size="18" font-weight="normal" fill="#131722">20.00</text><text x="22.30" y="1083.00" textLength="31.60" lengthAdjust="spacingAndGlyphs" font-family='"Liberation Sans", sans-serif' font-size="18" font-weight="normal" fill="#131722">Jun</text><text x="107.80" y="1083.00" textLength="25.70" lengthAdjust="spacingAndGlyphs" font-family='"Liberation Sans", sans-serif' font-size="18" font-weight="normal" fill="#131722">Jul</text><text x="188.80" y="1083.00" textLength="34.20" lengthAdjust="spacingAndGlyphs" font-family='"Liberation Sans", sans-serif' font-size="18" font-weight="normal" fill="#131722">Aug</text><text x="274.20" y="1083.00" textLength="33.60" lengthAdjust="spacingAndGlyphs" font-family='"Liberation Sans", sans-serif' font-size="18" font-weight="normal" fill="#131722">Sep</text><text x="358.00" y="1083.00" textLength="31.50" lengthAdjust="spacingAndGlyphs" font-family='"Liberation Sans", sans-serif' font-size="18" font-weight="normal" fill="#131722">Oct</text><text x="441.70" y="1083.00" textLength="34.20" lengthAdjust="spacingAndGlyphs" font-family='"Liberation Sans", sans-serif' font-size="18" font-weight="normal" fill="#131722">Nov</text><text x="524.70" y="1083.00" textLength="34.00" lengthAdjust="spacingAndGlyphs" font-family='"Liberation Sans", sans-serif' font-size="18" font-weight="normal" fill="#131722">Dec</text><text x="603.30" y="1083.00" textLength="48.00" lengthAdjust="spacingAndGlyphs" font-family='"Liberation Sans", sans-serif' font-size="18" font-weight="bold" fill="#131722">2024</text><text x="696.20" y="1083.00" textLength="31.90" lengthAdjust="spacingAndGlyphs" font-family='"Liberation Sans", sans-serif' font-size="18" font-weight="normal" fill="#131722">Feb</text><text x="775.80" y="1083.00" textLength="33.30" lengthAdjust="spacingAndGlyphs" font-family='"Liberation Sans", sans-serif' font-size="18" font-weight="normal" fill="#131722">Mar</text><text x="861.90" y="1083.00" textLength="30.90" lengthAdjust="spacingAndGlyphs" font-family='"Liberation Sans", sans-serif' font-size="18" font-weight="normal" fill="#131722">Apr</text><text x="941.60" y="1083.00" textLength="36.60" lengthAdjust="spacingAndGlyphs" font-family='"Liberation Sans", sans-serif' font-size="18" font-weight="normal" fill="#131722">May</text><text x="1029.40" y="1083.00" textLength="31.50" lengthAdjust="spacingAndGlyphs" font-family='"Liberation Sans", sans-serif' font-size="18" font-weight="normal" fill="#131722">Jun</text><text x="1114.80" y="1083.00" textLength="25.80" lengthAdjust="spacingAndGlyphs" font-family='"Liberation Sans", sans-serif' font-size="18" font-weight="normal" fill="#131722">Jul</text><text x="1195.80" y="1083.00" textLength="34.60" lengthAdjust="spacingAndGlyphs" font-family='"Liberation Sans", sans-serif' font-size="18" font-weight="normal" fill="#131722">Aug</text><text x="1281.30" y="1083.00" textLength="33.60" lengthAdjust="spacingAndGlyphs" font-family='"Liberation Sans", sans-serif' font-size="18" font-weight="normal" fill="#131722">Sep</text><text x="1365.90" y="1083.00" textLength="30.80" lengthAdjust="spacingAndGlyphs" font-family='"Liberation Sans", sans-serif' font-size="18" font-weight="normal" fill="#131722">Oct</text><text x="1449.60" y="1083.00" textLength="34.30" lengthAdjust="spacingAndGlyphs" font-family='"Liberation Sans", sans-serif' font-size="18" font-weight="normal" fill="#131722">Nov</text><text x="1531.60" y="1083.00" textLength="34.30" lengthAdjust="spacingAndGlyphs" font-family='"Liberation Sans", sans-serif' font-size="18" font-weight="normal" fill="#131722">Dec</text><text x="1610.30" y="1083.00" textLength="47.90" lengthAdjust="spacingAndGlyphs" font-family='"Liberation Sans", sans-serif' font-size="18" font-weight="bold" fill="#131722">2025</text><text x="1780.50" y="1083.00" textLength="32.50" lengthAdjust="spacingAndGlyphs" font-family='"Liberation Sans", sans-serif' font-size="18" font-weight="normal" fill="#131722">Mar</text><text x="1866.60" y="1083.00" textLength="30.80" lengthAdjust="spacingAndGlyphs" font-family='"Liberation Sans", sans-serif' font-size="18" font-weight="normal" fill="#131722">Apr</text><text x="10.98" y="23.20" textLength="439.43" lengthAdjust="spacingAndGlyphs" font-family='"Liberation Sans", sans-serif' font-size="14.3" font-weight="normal" fill="#131722">crispus9 published on TradingView.com, Apr 07, 2025 13:54 UTC+3</text><text x="20.12" y="53.90" textLength="207.56" lengthAdjust="spacingAndGlyphs" font-family='"Liberation Sans", sans-serif' font-size="13.6" font-weight="normal" fill="#131722">XRP / U.S. Dollar · 1D · BINANCE</text><text x="236.02" y="53.90" textLength="11.66" lengthAdjust="spacingAndGlyphs" font-family='"Liberation Sans", sans-serif' font-size="13.6" font-weight="normal" fill="#131722">O</text><text x="246.92" y="53.90" textLength="43.76" lengthAdjust="spacingAndGlyphs" font-family='"Liberation Sans", sans-serif' font-size="13.6" font-weight="normal" fill="#f23645">1.9222</text><text x="297.32" y="53.90" textLength="9.86" lengthAdjust="spacingAndGlyphs" font-family='"Liberation Sans", sans-serif' font-size="13.6" font-weight="normal" fill="#131722">H</text><text x="306.92" y="53.90" textLength="45.46" lengthAdjust="spacingAndGlyphs" font-family='"Liberation Sans", sans-serif' font-size="13.6" font-weight="normal" fill="#f23645">1.9530</text><text x="359.32" y="53.90" textLength="7.86" lengthAdjust="spacingAndGlyphs" font-family='"Liberation Sans", sans-serif' font-size="13.6" font-weight="normal" fill="#131722">L</text><text x="367.02" y="53.90" textLength="42.66" lengthAdjust="spacingAndGlyphs" font-family='"Liberation Sans", sans-serif' font-size="13.6" font-weight="normal" fill="#f23645">1.6138</text><text x="416.82" y="53.90" textLength="11.36" lengthAdjust="spacingAndGlyphs" font-family='"Liberation Sans", sans-serif' font-size="13.6" font-weight="normal" fill="#131722">C</text><text x="427.72" y="53.90" textLength="43.46" lengthAdjust="spacingAndGlyphs" font-family='"Liberation Sans", sans-serif' font-size="13.6" font-weight="normal" fill="#f23645">1.7845</text><text x="478.32" y="53.90" textLength="20.86" lengthAdjust="spacingAndGlyphs" font-family='"Liberation Sans", sans-serif' font-size="13.6" font-weight="normal" fill="#131722">Vol</text><text x="498.82" y="53.90" textLength="50.86" lengthAdjust="spacingAndGlyphs" font-family='"Liberation Sans", sans-serif' font-size="13.6" font-weight="normal" fill="#f23645">25.02 M</text><text x="20.92" y="73.10" textLength="102.26" lengthAdjust="spacingAndGlyphs" font-family='"Liberation Sans", sans-serif' font-size="13.6" font-weight="normal" fill="#131722">EMA (50, close)</text><text x="130.92" y="73.10" textLength="46.26" lengthAdjust="spacingAndGlyphs" font-family='"Liberation Sans", sans-serif' font-size="13.6" font-weight="normal" fill="#2962ff">2.2944</text><text x="20.92" y="92.60" textLength="109.76" lengthAdjust="spacingAndGlyphs" font-family='"Liberation Sans", sans-serif' font-size="13.6" font-weight="normal" fill="#131722">EMA (200, close)</text><text x="139.32" y="92.60" textLength="44.66" lengthAdjust="spacingAndGlyphs" font-family='"Liberation Sans", sans-serif' font-size="13.6" font-weight="normal" fill="#e91e63">1.9483</text><text x="20.92" y="738.00" textLength="91.76" lengthAdjust="spacingAndGlyphs" font-family='"Liberation Sans", sans-serif' font-size="13.6" font-weight="normal" fill="#131722">RSI (14, close)</text><text x="121.22" y="738.00" textLength="35.56" lengthAdjust="spacingAndGlyphs" font-family='"Liberation Sans", sans-serif' font-size="13.6" font-weight="normal" fill="#131722">31.48</text><text x="37.56" y="1123.50" textLength="85.78" lengthAdjust="spacingAndGlyphs" font-family='"Liberation Sans", sans-serif' font-size="14.8" font-weight="normal" fill="#131722">TradingView</text><path d="M11.3 1111.8H21.3V1122.7H16.1V1116.4H11.3Z" fill="#131722"/><circle cx="24.3" cy="1114" r="2.1" fill="#131722"/><path d="M28 1111.8H33.6L30.2 1122.7H24.9Z" fill="#131722"/></svg>
</body></html>
